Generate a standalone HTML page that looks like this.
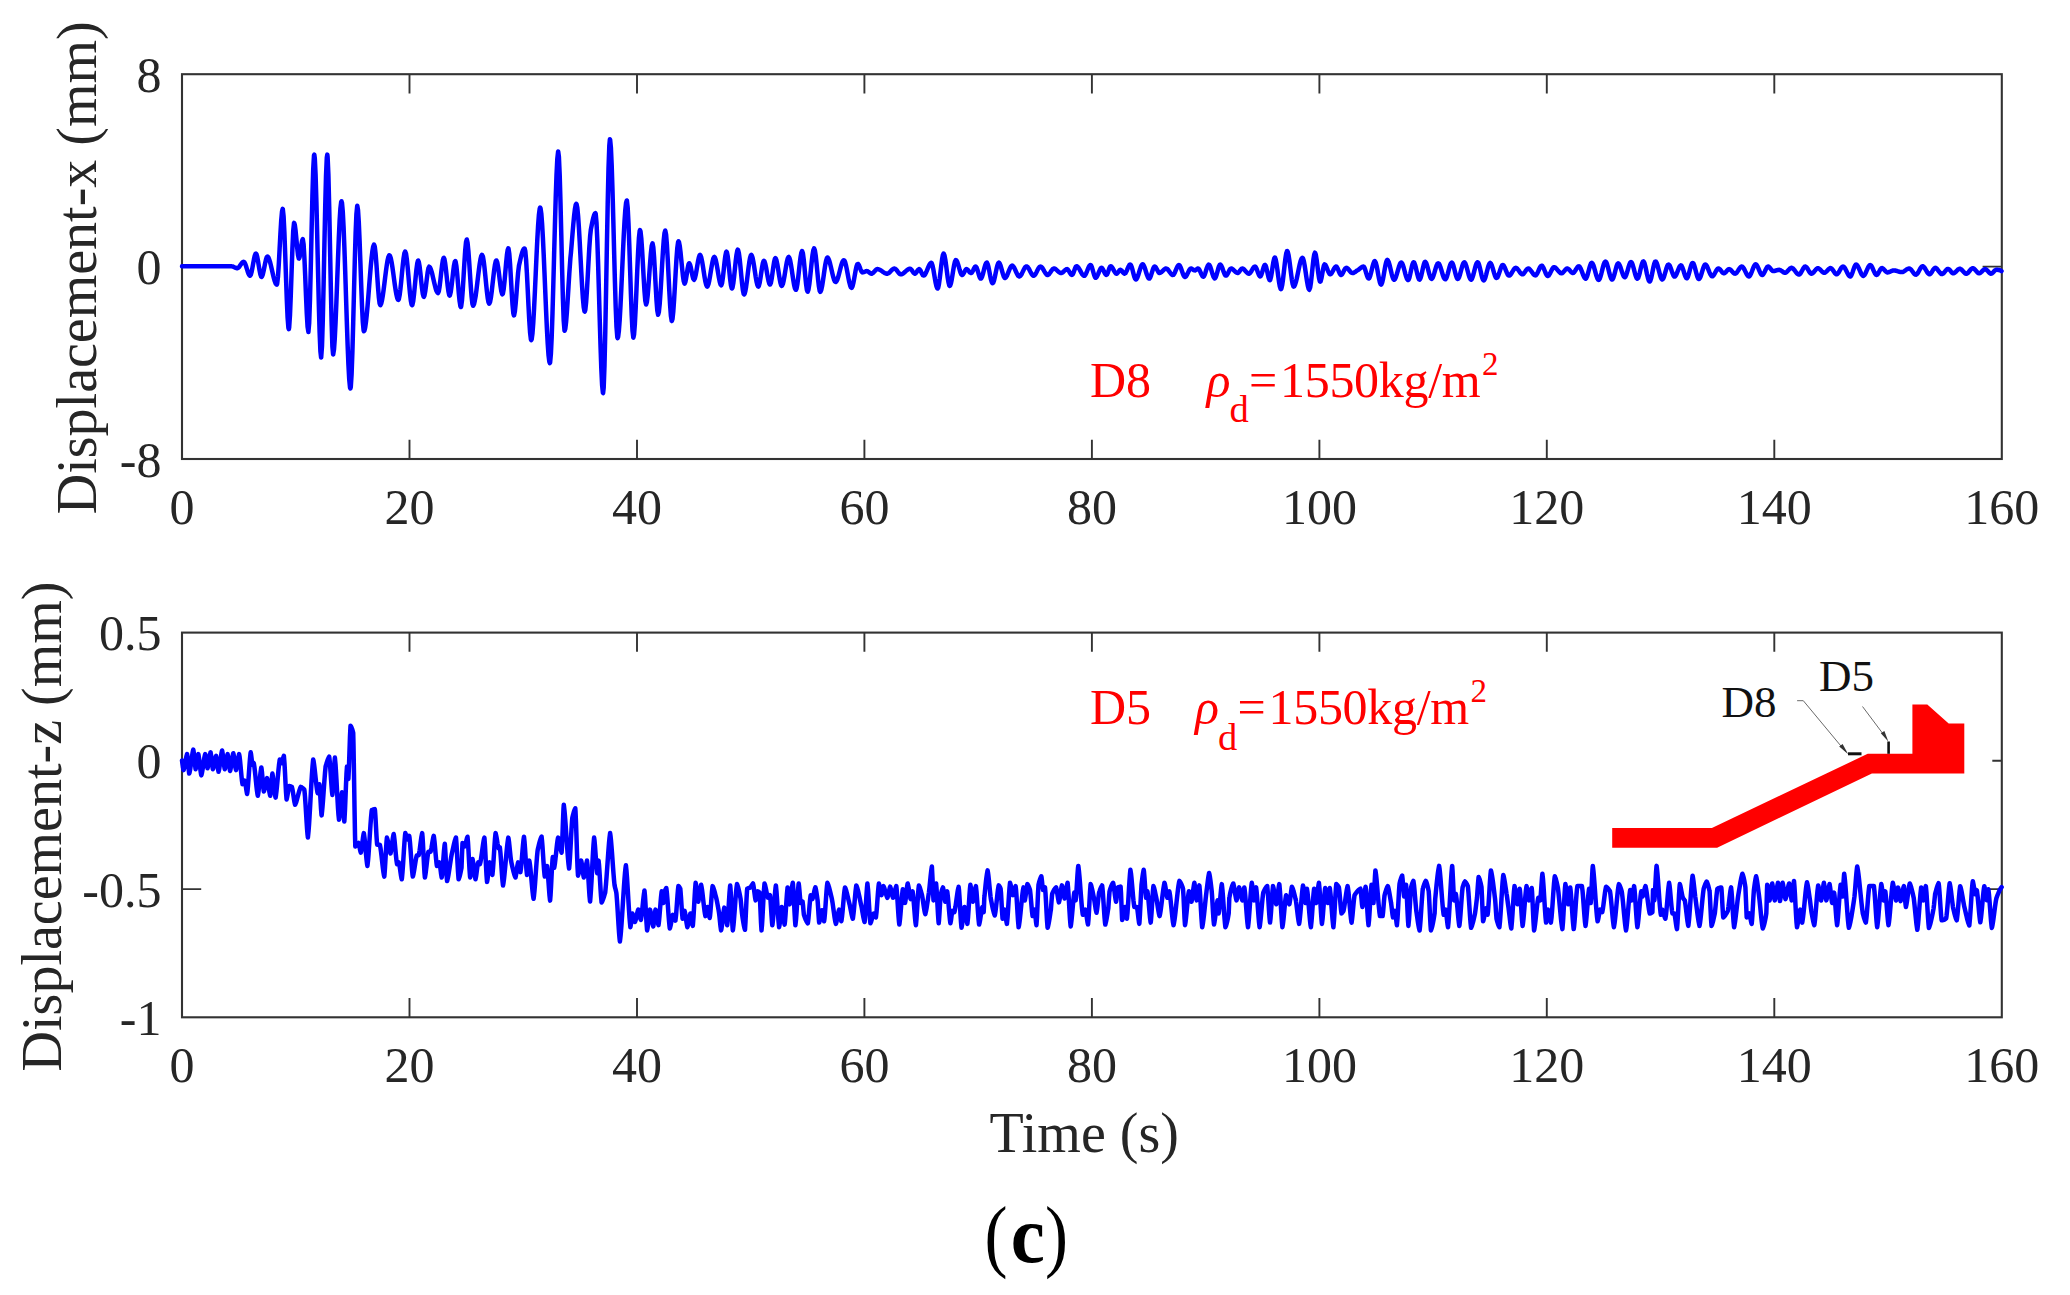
<!DOCTYPE html>
<html><head><meta charset="utf-8"><title>Displacement time histories (c)</title>
<style>html,body{margin:0;padding:0;background:#fff}svg{display:block}text{font-family:"Liberation Serif",serif}</style>
</head><body>
<svg width="2070" height="1295" viewBox="0 0 2070 1295">
<rect width="2070" height="1295" fill="#fff"/>
<g stroke="#333333" stroke-width="2.1" fill="none" stroke-linecap="butt">
<rect x="182.0" y="74.2" width="1819.8" height="384.8"/>
<path d="M409.5 74.2v19.2M409.5 459.0v-19.2M637 74.2v19.2M637 459.0v-19.2M864.4 74.2v19.2M864.4 459.0v-19.2M1091.9 74.2v19.2M1091.9 459.0v-19.2M1319.4 74.2v19.2M1319.4 459.0v-19.2M1546.8 74.2v19.2M1546.8 459.0v-19.2M1774.3 74.2v19.2M1774.3 459.0v-19.2M182.0 266.6h19.2M2001.8 266.6h-19.2" stroke-width="1.9"/>
</g>
<g stroke="#333333" stroke-width="2.1" fill="none" stroke-linecap="butt">
<rect x="182.0" y="632.6" width="1819.8" height="384.7"/>
<path d="M409.5 632.6v19.2M409.5 1017.3v-19.2M637 632.6v19.2M637 1017.3v-19.2M864.4 632.6v19.2M864.4 1017.3v-19.2M1091.9 632.6v19.2M1091.9 1017.3v-19.2M1319.4 632.6v19.2M1319.4 1017.3v-19.2M1546.8 632.6v19.2M1546.8 1017.3v-19.2M1774.3 632.6v19.2M1774.3 1017.3v-19.2M182.0 760.8h19.2M2001.8 760.8h-19.2M182.0 889.1h19.2M2001.8 889.1h-19.2" stroke-width="1.9"/>
</g>
<path d="M182 266.2L182.8 266.2L183.6 266.2L184.4 266.2L185.2 266.2L186 266.2L186.8 266.2L187.6 266.2L188.4 266.2L189.2 266.2L190 266.2L190.8 266.2L191.6 266.2L192.4 266.2L193.2 266.2L194 266.2L194.8 266.2L195.6 266.2L196.4 266.2L197.2 266.2L198 266.2L198.8 266.2L199.6 266.2L200.4 266.2L201.2 266.2L202 266.2L202.8 266.2L203.6 266.2L204.4 266.2L205.2 266.2L206 266.2L206.8 266.2L207.6 266.2L208.4 266.2L209.2 266.2L210 266.2L210.8 266.2L211.6 266.2L212.4 266.2L213.2 266.2L214 266.2L214.8 266.2L215.6 266.2L216.4 266.2L217.2 266.2L218 266.2L218.8 266.2L219.6 266.2L220.4 266.2L221.2 266.2L222 266.2L222.8 266.2L223.6 266.2L224.4 266.2L225.2 266.2L226 266.2L226.8 266.2L227.6 266.2L228.4 266.2L229.2 266.2L230 266.2L230.8 266.2L231 266.2L231.6 266.3L232.4 266.4L233.2 266.7L234 267.1L234.8 267.5L235.6 267.8L236.4 268L237.2 268.2L237.3 268.2L238 267.9L238.8 267.3L239.6 266.3L240.4 265.1L241.2 263.9L242 262.9L242.8 262.1L243.6 261.8L243.7 261.8L244.4 262.3L245.2 263.8L246 266L246.8 268.6L247.6 271.2L248.4 273.5L249.2 275.1L250 275.8L250.1 275.8L250.8 274.8L251.6 272L252.4 267.9L253.2 263.4L254 259.1L254.8 255.6L255.6 253.7L255.9 253.5L256.4 254L257.2 256.6L258 260.8L258.8 265.8L259.6 270.6L260.4 274.5L261.2 276.7L261.5 277L262 276.6L262.8 274.4L263.6 271L264.4 267L265.2 262.9L266 259.4L266.8 257.1L267.4 256.5L267.6 256.6L268.4 257.5L269.2 259.3L270 261.9L270.8 265L271.6 268.4L272.4 272L273.2 275.5L274 278.6L274.8 281.3L275.6 283.4L276.4 284.5L276.8 284.6L277.2 283.6L278 276.4L278.8 264.1L279.6 249.2L280.4 234L281.2 220.6L282 211.6L282.7 208.9L282.8 209.1L283.6 216.6L284.4 232.6L285.2 254L286 277.4L286.8 299.7L287.6 317.6L288.4 327.9L288.8 329.2L289.2 327.2L290 314.9L290.8 294.9L291.6 271.5L292.4 248.8L293.2 231.3L294 223.1L294.1 222.9L294.8 224.8L295.6 230.9L296.4 239.2L297.2 247.9L298 254.9L298.8 258.5L299 258.6L299.6 257.1L300.4 252.4L301.2 246.3L302 241.1L302.8 239L303.6 244.3L304.4 257.8L305.2 276L306 295.8L306.8 313.9L307.6 327L308.4 332L309.2 322.7L310 299L310.8 266.5L311.6 230.4L312.4 196.3L313.2 169.5L314 155.5L314.3 154.6L314.8 158.4L315.6 175.2L316.4 201.9L317.2 234.8L318 270L318.8 303.7L319.6 332L320.4 351.2L321.1 357.5L321.2 357.4L322 346.1L322.8 320L323.6 284.5L324.4 245.1L325.2 207.2L326 176.2L326.8 157.6L327.3 154.6L327.6 156.8L328.4 175.1L329.2 206.9L330 246.1L330.8 286.5L331.6 322L332.4 346.6L333.1 354.4L333.2 354.3L334 349.5L334.8 338.1L335.6 321.7L336.4 302L337.2 280.5L338 258.8L338.8 238.5L339.6 221.2L340.4 208.5L341.2 201.8L341.5 201.3L342 203L342.8 212L343.6 227.5L344.4 247.8L345.2 271.2L346 296.2L346.8 321.1L347.6 344.3L348.4 364.1L349.2 379L350 387.4L350.4 388.5L350.8 386.9L351.6 374.2L352.4 351.7L353.2 323L354 291.5L354.8 260.5L355.6 233.7L356.4 214.3L357.2 206L357.3 205.8L358 209.8L358.8 222.3L359.6 240.8L360.4 262.7L361.2 285.2L362 305.8L362.8 321.7L363.6 330.4L363.9 331.2L364.4 330.7L365.2 327.5L366 321.8L366.8 314.3L367.6 305.5L368.4 295.7L369.2 285.5L370 275.5L370.8 266L371.6 257.7L372.4 251.1L373.2 246.5L374 244.6L374.1 244.6L374.8 246.7L375.6 253.7L376.4 263.8L377.2 275.4L378 287L378.8 296.9L379.6 303.5L380.3 305.2L380.4 305.2L381.2 303.6L382 300.3L382.8 295.6L383.6 289.9L384.4 283.6L385.2 277L386 270.7L386.8 265L387.6 260.2L388.4 256.9L389.2 255.3L389.4 255.3L390 255.9L390.8 258.3L391.6 262.1L392.4 267.1L393.2 272.7L394 278.7L394.8 284.6L395.6 290L396.4 294.6L397.2 298L398 299.7L398.3 299.9L398.8 299.2L399.6 295.4L400.4 289.2L401.2 281.4L402 273L402.8 264.9L403.6 258L404.4 253.2L405.2 251.5L406 253.5L406.8 259L407.6 266.7L408.4 275.7L409.2 285L410 293.6L410.8 300.5L411.6 304.5L412.1 305.2L412.4 304.8L413.2 301.2L414 294.6L414.8 286.4L415.6 277.7L416.4 269.7L417.2 263.7L418 260.7L418.2 260.6L418.8 261.9L419.6 266.4L420.4 273.2L421.2 280.9L422 288.2L422.8 293.9L423.6 296.7L423.8 296.8L424.4 295.7L425.2 291.6L426 285.6L426.8 278.9L427.6 272.7L428.4 268.3L429.2 266.7L429.2 266.7L430 267.4L430.8 269.2L431.6 271.7L432.4 274.7L433.2 278.2L434 281.7L434.8 285.1L435.6 288.2L436.4 290.7L437.2 292.3L438 293L438.8 291.3L439.6 286.6L440.4 280.1L441.2 272.8L442 265.9L442.8 260.5L443.6 257.9L443.8 257.8L444.4 259L445.2 263.4L446 270L446.8 277.6L447.6 285.1L448.4 291.2L449.2 295L449.7 295.6L450 295.1L450.8 291.7L451.6 285.8L452.4 278.7L453.2 271.5L454 265.4L454.8 261.7L455.3 261.1L455.6 261.7L456.4 266.2L457.2 274L458 283.6L458.8 293.2L459.6 301.2L460.4 306.2L460.9 307L461.2 306.3L462 300.2L462.8 289.5L463.6 276.2L464.4 262.6L465.2 250.5L466 242.2L466.8 239.5L466.8 239.5L467.6 243.1L468.4 251.1L469.2 262.1L470 274.4L470.8 286.5L471.6 296.8L472.4 303.7L473.1 305.7L473.2 305.7L474 304.2L474.8 300.7L475.7 295.8L476.5 289.7L477.3 283.1L478.1 276.2L478.9 269.7L479.7 263.8L480.5 259L481.3 255.9L482 254.8L482.9 256.5L483.7 261.1L484.5 267.8L485.3 275.6L486.1 283.8L486.9 291.5L487.7 298L488.5 302.3L489.2 303.7L489.3 303.7L490.1 301.9L490.9 297.6L491.7 291.6L492.5 284.6L493.3 277.4L494.1 270.6L494.9 265L495.7 261.4L496.3 260.4L496.5 260.4L497.3 262.6L498.1 267.1L498.9 273.1L499.7 279.7L500.5 286L501.3 291.1L502.1 293.9L502.4 294.3L502.9 293.6L503.7 289L504.5 281.5L505.3 272.5L506.1 263.2L506.9 255.2L507.7 249.8L508.3 248.4L508.5 248.6L509.3 253.8L510.1 264.3L510.9 277.9L511.7 292.1L512.5 304.6L513.3 313.1L513.9 315.4L514.1 315.3L514.9 311.4L515.7 303.4L516.5 293.2L517.3 282.4L518.1 272.8L518.9 266.2L519 265.6L519.7 262.4L520.5 258.9L521.3 255.6L522.1 252.8L522.9 250.6L523.7 249L524.5 248.4L524.6 248.4L525.3 251L526.1 260L526.9 273.4L527.7 289.3L528.5 305.8L529.3 321L530.1 332.8L530.9 339.4L531.2 340.1L531.7 339.2L532.5 333.1L533.3 322.4L534.1 308.2L534.9 291.7L535.7 274.1L536.5 256.4L537.3 239.9L538.1 225.7L538.9 214.9L539.7 208.7L540.1 207.6L540.5 208.2L541.3 213.5L542.1 223.8L542.9 237.8L543.7 254.7L544.5 273.2L545.3 292.4L546.1 311.2L546.9 328.6L547.7 343.5L548.5 354.9L549.3 361.6L549.8 363.1L550.1 362.5L550.9 353.9L551.7 336.8L552.5 313.1L553.3 285.3L554.1 255.4L554.9 225.7L555.7 198.2L556.5 175.3L557.3 159.1L558.1 151.8L558.2 151.6L558.9 156.8L559.7 175.1L560.5 202.8L561.3 235.4L562.1 268.7L562.9 298.5L563.7 320.6L564.5 330.5L564.6 330.7L565.3 328.7L566.1 322.1L566.9 312L567.7 299.7L568.5 286.5L569.3 273.6L570.1 262.4L570.4 258L570.9 253.3L571.7 243.8L572.5 233.9L573.3 224.4L574.1 215.9L574.9 209.2L575.7 204.9L576.3 203.8L576.5 203.9L577.3 207.7L578.1 216L578.9 227.7L579.7 241.7L580.5 256.9L581.3 272.1L582.1 286.3L582.9 298.3L583.7 307L584.5 311.3L584.7 311.6L585.3 310L586.1 302.6L586.9 291.1L587.7 276.9L588.5 262L589.3 248L590.1 236.6L590.8 229.9L591.7 225.3L592.5 221.3L593.3 217.8L594.1 215.1L594.9 213.6L595.4 213.2L595.7 213.8L596.5 222.6L597.3 239.9L598.1 263.3L598.9 290.4L599.7 318.5L600.5 345.3L601.3 368.3L602.1 384.9L602.9 392.8L603.1 393.1L603.7 387.4L604.5 365.3L605.3 331.1L606.1 289.6L606.9 245.5L607.7 203.7L608.5 168.9L609.3 146L609.9 139.3L610.1 139.5L610.9 147.6L611.7 165.5L612.5 190.5L613.3 219.9L614.1 251L614.9 281L615.7 307.2L616.5 326.8L617.3 337.2L617.6 338.1L618.1 336.9L618.9 330.6L619.7 319.8L620.5 305.6L621.3 289.1L622.1 271.3L622.9 253.5L623.7 236.6L624.5 221.7L625.3 210L626.1 202.6L626.8 200.5L626.9 200.6L627.7 207.8L628.5 223.5L629.3 245.1L630.1 269.4L630.9 293.8L631.7 315.2L632.5 330.7L633.3 337.5L633.4 337.6L634.1 334.2L634.9 323.5L635.7 307.7L636.5 288.9L637.3 269.6L638.1 252L638.9 238.3L639.7 230.8L640 230.1L640.5 231.3L641.3 238.4L642.1 250L642.9 264L643.7 278.4L644.5 291.3L645.3 300.7L646.1 304.5L646.9 302L647.7 295.2L648.5 285.4L649.3 274.2L650.1 262.9L650.9 253L651.7 246L652.5 243.3L653.3 247.2L654.1 257.4L654.9 271.3L655.7 286.5L656.5 300.4L657.3 310.6L658.1 314.7L658.9 311.8L659.7 304L660.5 292.6L661.3 279.2L662.1 265.1L662.9 251.8L663.7 240.6L664.5 233.1L665.2 230.6L665.3 230.6L666.1 234.7L666.9 244.8L667.7 258.7L668.5 274.7L669.3 290.9L670.1 305.2L670.9 315.8L671.7 320.9L671.8 321L672.5 319L673.3 311.4L674.1 299.9L674.9 286.1L675.7 271.7L676.5 258.5L677.3 248L678.1 242L678.5 241.3L678.9 241.8L679.7 245.6L680.5 252L681.3 259.9L682.1 268.1L682.9 275.6L683.7 281.1L684.5 283.5L684.6 283.6L685.3 282.3L686.1 278.5L686.9 273.3L687.7 268.2L688.5 264.4L689.2 263.2L689.3 263.2L690.1 264.7L690.9 267.9L691.7 272L692.5 275.9L693.3 278.8L694 279.8L694.1 279.7L694.9 278.3L695.7 275L696.5 270.5L697.3 265.6L698.1 260.9L698.9 257.2L699.7 255.1L700 254.9L700.5 255.4L701.3 257.6L702.1 261.4L702.9 266.2L703.7 271.4L704.5 276.6L705.3 281.2L706.1 284.6L706.9 286.4L707.2 286.6L707.7 286.1L708.5 283.9L709.3 280.4L710.1 275.8L710.9 270.9L711.7 266.1L712.5 261.8L713.3 258.6L714.1 257L714.3 256.9L714.9 257.4L715.7 259.7L716.5 263.4L717.3 268L718.1 272.9L718.9 277.6L719.7 281.6L720.5 284.3L721.3 285.3L722.1 283L722.9 277.5L723.7 270.2L724.5 262.6L725.3 256.1L726.1 252.2L726.5 251.7L726.9 252.3L727.7 256.3L728.5 263L729.3 270.9L730.1 278.7L730.9 284.9L731.7 288.3L732 288.5L732.5 287.6L733.3 283.4L734.1 276.8L734.9 269.1L735.7 261.3L736.5 254.8L737.3 250.6L737.8 249.7L738.1 250L738.9 253.2L739.7 259.3L740.5 267.2L741.3 275.7L742.1 283.7L742.9 290.2L743.7 293.9L744.1 294.4L744.5 294L745.3 291.4L746.1 286.8L746.9 281L747.7 274.5L748.5 268L749.3 262.2L750.1 257.7L750.9 255.2L751.3 254.9L751.7 255.3L752.5 257.5L753.3 261.4L754.1 266.2L754.9 271.5L755.7 276.8L756.5 281.4L757.3 284.8L758.1 286.5L758.3 286.6L758.9 285.8L759.7 282.6L760.5 277.8L761.3 272.4L762.1 267.1L762.9 263L763.7 260.9L763.9 260.8L764.5 261.4L765.3 263.9L766.1 267.7L766.9 272.3L767.7 276.9L768.5 280.9L769.3 283.7L770 284.6L770.1 284.6L770.9 282.8L771.7 278.6L772.5 273L773.3 267.1L774.1 262.1L774.9 258.8L775.4 258.2L775.7 258.4L776.5 260.4L777.3 264.2L778.1 268.9L778.9 274.1L779.7 279L780.5 283L781.3 285.5L781.8 285.9L782.1 285.7L782.9 283.9L783.7 280.4L784.5 276L785.3 271L786.1 266.1L786.9 261.7L787.7 258.5L788.5 257L788.7 256.9L789.3 257.6L790.1 260.2L790.9 264.4L791.7 269.4L792.5 274.9L793.3 280.2L794.1 284.9L794.9 288.2L795.7 289.8L795.9 289.8L796.5 288.7L797.3 284.6L798.1 278.5L798.9 271.3L799.7 263.9L800.5 257.5L801.3 252.8L802.1 251L802.9 253.3L803.7 259.2L804.5 267.4L805.3 276.3L806.1 284.3L806.9 290L807.6 291.8L807.7 291.8L808.5 289.5L809.3 284.5L810.1 277.5L810.9 269.7L811.7 261.9L812.5 255.1L813.3 250.3L814.1 248.4L814.9 250.4L815.7 255.6L816.5 263L817.3 271.4L818.1 279.6L818.9 286.4L819.7 290.8L820.3 291.8L820.5 291.7L821.3 289.8L822.1 286.1L822.9 281.2L823.7 275.6L824.5 269.9L825.3 264.7L826.1 260.6L826.9 258.1L827.4 257.5L827.7 257.6L828.5 258.7L829.3 260.8L830.1 263.7L830.9 267L831.7 270.6L832.5 274L833.3 277.2L834.1 279.8L834.9 281.5L835.6 282L835.7 282L836.5 281.3L837.3 279.7L838.1 277.3L838.9 274.4L839.7 271.3L840.5 268.1L841.3 265.2L842.1 262.7L842.9 261L843.7 260.2L843.9 260.2L844.5 260.7L845.3 262.7L846.1 265.9L846.9 269.8L847.7 274L848.5 278.3L849.3 282.2L850.1 285.3L850.9 287.3L851.6 287.9L851.7 287.8L852.5 286.4L853.3 283.3L854.1 279.1L854.9 274.6L855.7 270.2L856.5 266.6L857.3 264.3L857.8 263.9L858.1 264L858.9 265.1L859.7 267.1L860.5 269.3L861.3 271.2L862.1 272.3L862.4 272.4L862.9 272.3L863.7 272.1L864.5 271.8L865.3 271.5L866.1 271.2L866.9 271.1L867.7 271.3L868.5 271.8L869.3 272.5L870.1 273.1L870.9 273.6L871.5 273.7L871.7 273.7L872.5 273.3L873.3 272.7L874.1 271.8L874.9 270.9L875.7 270L876.5 269.4L877.3 269.1L877.4 269.1L878.1 269.2L878.9 269.4L879.7 269.8L880.5 270.2L881.3 270.7L882.1 271.3L882.9 271.9L883.7 272.4L884.5 272.9L885.3 273.3L886.1 273.5L886.9 273.7L887.2 273.7L887.7 273.6L888.5 273.2L889.3 272.6L890.1 271.8L890.9 270.9L891.7 270.1L892.5 269.3L893.3 268.8L894.1 268.5L894.3 268.5L894.9 268.6L895.7 269.2L896.5 270L897.3 271L898.1 272.1L898.9 273.1L899.7 273.9L900.5 274.3L900.9 274.3L901.3 274.3L902.1 274.1L902.9 273.6L903.7 273L904.5 272.4L905.3 271.6L906.1 270.9L906.9 270.2L907.7 269.6L908.5 269.1L909.3 268.8L910 268.7L910.1 268.7L910.9 269.2L911.7 270.1L912.5 271.3L913.3 272.4L914.1 273.3L914.9 273.7L915.7 273.3L916.5 272.2L917.3 270.9L918.1 269.8L918.9 269.2L919.1 269.1L919.7 269.4L920.5 270.6L921.3 272.2L922.1 273.9L922.9 275.2L923.7 275.6L924.5 275.2L925.3 274.1L926.1 272.5L926.9 270.6L927.7 268.6L928.5 266.6L929.3 264.9L930.1 263.6L930.9 262.9L931.3 262.8L931.7 263.2L932.5 265.5L933.3 269.2L934.1 273.8L934.9 278.6L935.7 283L936.5 286.5L937.3 288.4L937.6 288.5L938.1 287.9L938.9 284.4L939.7 278.8L940.5 272.1L941.3 265.2L942.1 259.2L942.9 255L943.6 253.6L943.7 253.7L944.5 255.5L945.3 259.6L946.1 265.3L946.9 271.5L947.7 277.6L948.5 282.5L949.3 285.5L949.8 285.9L950.1 285.7L950.9 283.5L951.7 279.7L952.5 274.9L953.3 269.9L954.1 265.2L954.9 261.8L955.7 260.1L955.9 260L956.5 260.4L957.3 262L958.1 264.4L958.9 267.1L959.7 270L960.5 272.5L961.3 274.3L962.1 275L962.9 274.5L963.7 273.3L964.5 271.7L965.3 270.2L966.1 269.3L966.5 269.1L966.9 269.2L967.7 269.8L968.5 270.7L969.3 271.8L970.1 272.6L970.9 273L971.1 273L971.7 272.7L972.5 271.5L973.3 269.9L974.1 268.2L974.9 267L975.7 266.5L975.7 266.5L976.5 267.4L977.3 269.5L978.1 272.1L978.9 274.9L979.7 277.2L980.5 278.5L980.9 278.6L981.3 278.3L982.1 276.7L982.9 274.1L983.7 270.9L984.5 267.6L985.3 264.9L986.1 263L986.7 262.6L986.9 262.6L987.7 264.2L988.5 267.2L989.3 271.1L990.1 275.4L990.9 279.2L991.7 282L992.5 283.3L992.6 283.3L993.3 282.5L994.1 280.2L994.9 276.8L995.7 272.9L996.5 269.1L997.3 265.7L998.1 263.4L998.9 262.6L998.9 262.6L999.7 263.5L1000.5 265.4L1001.3 268.1L1002.1 271.1L1002.9 273.9L1003.7 276.3L1004.5 277.7L1005 278L1005.3 277.9L1006.1 277.1L1006.9 275.8L1007.7 273.9L1008.5 271.9L1009.3 269.9L1010.1 268L1010.9 266.6L1011.7 265.8L1012.2 265.6L1012.5 265.7L1013.3 266.4L1014.1 267.6L1014.9 269.2L1015.7 271L1016.5 272.8L1017.3 274.4L1018.1 275.7L1018.9 276.4L1019.3 276.5L1019.7 276.4L1020.5 275.7L1021.3 274.6L1022.1 273.1L1022.9 271.4L1023.7 269.8L1024.5 268.3L1025.3 267.1L1026.1 266.5L1026.5 266.4L1026.9 266.5L1027.7 267.1L1028.5 268.2L1029.3 269.6L1030.1 271.2L1030.9 272.7L1031.7 274.1L1032.5 275.1L1033.3 275.7L1033.7 275.8L1034.1 275.6L1034.9 274.9L1035.7 273.7L1036.5 272.2L1037.3 270.6L1038.1 269L1038.9 267.7L1039.7 266.8L1040.5 266.5L1040.5 266.5L1041.3 266.8L1042.1 267.6L1042.9 268.8L1043.7 270.2L1044.5 271.6L1045.3 272.9L1046.1 274L1046.9 274.8L1047.6 275L1047.7 275L1048.5 274.6L1049.3 273.8L1050.1 272.7L1050.9 271.5L1051.7 270.3L1052.5 269.3L1053.3 268.6L1053.9 268.5L1054.1 268.5L1054.9 268.7L1055.7 269.2L1056.5 269.9L1057.3 270.6L1058.1 271.4L1058.9 272.1L1059.7 272.6L1060.5 273L1061.1 273L1061.3 273L1062.2 272.7L1063 272.1L1063.8 271.3L1064.6 270.6L1065.4 269.8L1066.2 269.3L1067 269.1L1067.8 269.5L1068.6 270.6L1069.4 271.9L1070.2 273.3L1071 274.4L1071.8 275L1071.9 275L1072.6 274.5L1073.4 272.9L1074.2 270.7L1075 268.5L1075.8 266.8L1076.5 266.2L1076.6 266.2L1077.4 266.5L1078.2 267.4L1079 268.5L1079.8 269.9L1080.6 271.4L1081.4 272.9L1082.2 274.2L1083 275.1L1083.8 275.7L1084.2 275.8L1084.6 275.7L1085.4 274.8L1086.2 273.2L1087 271.3L1087.8 269.2L1088.6 267.3L1089.4 265.8L1090.2 265L1090.4 265L1091 265.3L1091.8 267L1092.6 269.6L1093.4 272.5L1094.2 275.2L1095 277.2L1095.6 277.8L1095.8 277.8L1096.6 277.1L1097.4 275.7L1098.2 273.9L1099 271.9L1099.8 270L1100.6 268.5L1101.4 267.8L1101.5 267.8L1102.2 268.2L1103 269.4L1103.8 271L1104.6 272.8L1105.4 274.2L1106.2 275L1106.3 275L1107 274.5L1107.8 272.8L1108.6 270.4L1109.4 268.1L1110.2 266.6L1110.6 266.3L1111 266.3L1111.8 267L1112.6 268.1L1113.4 269.6L1114.2 271.1L1115 272.4L1115.8 273.4L1116.5 273.7L1117.4 273.2L1118.2 272.2L1119 271L1119.8 270.1L1120.4 269.8L1120.6 269.8L1121.4 270.3L1122.2 271.2L1123 272.4L1123.8 273.3L1124.6 273.7L1125.4 273.2L1126.2 271.9L1127 270.2L1127.8 268.2L1128.6 266.4L1129.4 265L1130.2 264.5L1131 265.2L1131.8 267.3L1132.6 270.2L1133.4 273.4L1134.2 276.4L1135 278.6L1135.8 279.5L1135.8 279.5L1136.6 279L1137.4 277.5L1138.2 275.3L1139 272.7L1139.8 270L1140.6 267.6L1141.4 265.6L1142.2 264.5L1142.6 264.3L1143 264.4L1143.8 265.5L1144.6 267.4L1145.4 269.8L1146.2 272.5L1147 275L1147.8 277L1148.6 278.3L1149.1 278.6L1149.4 278.6L1150.2 277.5L1151 275.4L1151.8 272.9L1152.6 270.3L1153.4 268.1L1154.2 266.7L1154.6 266.5L1155 266.6L1155.8 267.4L1156.6 268.8L1157.4 270.3L1158.2 271.8L1159 272.8L1159.6 273L1159.8 273L1160.6 272.7L1161.4 272.2L1162.2 271.4L1163 270.6L1163.8 269.8L1164.6 269.1L1165.4 268.6L1166.1 268.5L1166.2 268.5L1167 268.8L1167.8 269.5L1168.6 270.5L1169.4 271.6L1170.2 272.7L1171 273.8L1171.8 274.5L1172.6 275L1172.9 275L1173.4 274.8L1174.2 273.8L1175 272.2L1175.8 270.2L1176.6 268.3L1177.4 266.6L1178.2 265.4L1178.9 265L1179 265L1179.8 265.7L1180.6 267.3L1181.4 269.4L1182.2 271.7L1183 274L1183.8 275.8L1184.6 276.8L1185 277L1185.4 276.9L1186.2 276.1L1187 274.7L1187.8 273.1L1188.6 271.4L1189.4 269.8L1190.2 268.8L1190.9 268.5L1191 268.5L1191.8 268.7L1192.6 269.3L1193.4 269.9L1194.2 270.3L1194.8 270.4L1195 270.4L1195.8 270L1196.6 269.3L1197.4 268.7L1198 268.5L1198.2 268.5L1199 269.2L1199.8 270.6L1200.6 272.4L1201.4 274.3L1202.2 275.8L1203 276.6L1203.3 276.7L1203.8 276.4L1204.6 274.9L1205.4 272.7L1206.2 270L1207 267.5L1207.8 265.6L1208.6 264.6L1208.7 264.6L1209.4 265L1210.2 266.6L1211 268.9L1211.8 271.6L1212.6 274.3L1213.4 276.6L1214.2 278L1214.7 278.4L1215 278.3L1215.8 277L1216.6 274.7L1217.4 271.8L1218.2 268.8L1219 266.3L1219.8 264.8L1220.2 264.5L1220.6 264.7L1221.4 265.8L1222.2 267.6L1223 269.9L1223.8 272.2L1224.6 274.2L1225.4 275.4L1225.9 275.6L1226.2 275.6L1227 274.8L1227.8 273.5L1228.6 271.9L1229.4 270.3L1230.2 269.1L1231 268.5L1231.1 268.5L1231.8 268.6L1232.6 269.1L1233.4 269.8L1234.2 270.6L1235 271.4L1235.8 272.2L1236.6 272.7L1237.4 273L1237.6 273L1238.2 272.8L1239 272.1L1239.8 270.9L1240.6 269.8L1241.4 268.8L1242.2 268.5L1243 268.7L1243.8 269.2L1244.6 270L1245.4 270.9L1246.2 271.8L1247 272.6L1247.8 273.3L1248.6 273.6L1249 273.7L1249.4 273.6L1250.2 272.9L1251 271.8L1251.8 270.4L1252.6 269L1253.4 267.7L1254.2 266.8L1255 266.5L1255.8 267.2L1256.6 268.8L1257.4 271L1258.2 273.2L1259 275.2L1259.8 276.3L1260.2 276.5L1260.6 276.2L1261.4 274.7L1262.2 272.1L1263 269.3L1263.8 266.7L1264.6 265.1L1265 264.9L1265.4 265.2L1266.2 267.2L1267 270.5L1267.8 274.3L1268.6 277.7L1269.4 279.8L1269.8 280.2L1270.2 279.9L1271 277L1271.8 272.4L1272.6 266.9L1273.4 261.9L1274.2 258.4L1274.8 257.5L1275 257.6L1275.8 259.8L1276.6 264.2L1277.4 269.8L1278.2 276L1279 281.8L1279.8 286.4L1280.6 288.9L1280.9 289.2L1281.4 288.6L1282.2 285.1L1283 279.4L1283.8 272.4L1284.6 265.2L1285.4 258.5L1286.2 253.5L1287 251.1L1287.2 251L1287.8 251.9L1288.6 255.3L1289.4 260.6L1290.2 266.8L1291 273.3L1291.8 279.3L1292.6 283.9L1293.4 286.4L1293.7 286.6L1294.2 286.3L1295 284.9L1295.8 282.4L1296.6 279.2L1297.4 275.5L1298.2 271.6L1299 267.7L1299.8 264.1L1300.6 261.1L1301.4 258.9L1302.2 257.9L1302.4 257.8L1303 258.4L1303.8 261L1304.6 265.2L1305.4 270.4L1306.2 275.9L1307 281.2L1307.8 285.7L1308.6 288.8L1309.3 289.8L1310.2 287.5L1311 282.1L1311.8 274.8L1312.6 266.9L1313.4 259.7L1314.2 254.6L1315 252.7L1315.8 254.7L1316.6 259.5L1317.4 265.8L1318.2 272.4L1319 277.9L1319.8 281.3L1320.2 281.7L1320.6 281.3L1321.4 278.5L1322.2 274.2L1323 269.6L1323.8 265.9L1324.6 264.4L1325.4 264.9L1326.2 266.3L1327 268.3L1327.8 270.4L1328.6 272.3L1329.4 273.8L1330.2 274.3L1331 274L1331.8 272.9L1332.6 271.5L1333.4 269.9L1334.2 268.4L1335 267.2L1335.8 266.6L1336.1 266.5L1336.6 266.8L1337.4 268L1338.2 269.8L1339 271.9L1339.8 273.7L1340.6 274.8L1341 275L1341.4 274.9L1342.2 274.1L1343 272.7L1343.8 271.1L1344.6 269.5L1345.4 268.3L1346.2 267.8L1346.3 267.8L1347 268L1347.8 268.6L1348.6 269.5L1349.4 270.5L1350.2 271.5L1351 272.4L1351.8 272.9L1352.4 273L1352.6 273L1353.4 272.9L1354.2 272.5L1355 272.1L1355.8 271.5L1356.6 270.9L1357.4 270.3L1358.2 269.8L1358.3 269.8L1359 269.3L1359.8 268.6L1360.6 268L1361.4 267.4L1362.2 266.9L1363 266.6L1363.5 266.5L1363.8 266.7L1364.6 268L1365.4 270.3L1366.2 273L1367 275.7L1367.8 277.7L1368.6 278.6L1368.7 278.6L1369.4 278L1370.2 276L1371 273L1371.8 269.7L1372.6 266.3L1373.4 263.5L1374.2 261.6L1374.8 261.1L1375 261.2L1375.8 262.7L1376.6 265.8L1377.4 269.8L1378.2 274.3L1379 278.6L1379.8 282.1L1380.6 284.2L1381.1 284.6L1381.4 284.4L1382.2 282.5L1383 279.1L1383.8 274.7L1384.6 269.9L1385.4 265.5L1386.2 262.1L1387 260.1L1387.3 259.9L1387.8 260.2L1388.6 261.7L1389.4 264.3L1390.2 267.5L1391 271L1391.8 274.3L1392.6 277.2L1393.4 279.1L1394.1 279.7L1394.2 279.7L1395 279L1395.8 277.3L1396.6 274.9L1397.4 272.2L1398.2 269.3L1399 266.6L1399.8 264.4L1400.6 262.9L1401.3 262.5L1401.4 262.5L1402.2 263.4L1403 265.3L1403.8 268L1404.6 271L1405.4 274.1L1406.2 276.8L1407 278.9L1407.8 280L1408.1 280.1L1408.6 279.7L1409.4 277.6L1410.2 274.3L1411 270.5L1411.8 266.9L1412.6 263.9L1413.4 262.3L1413.7 262.2L1414.2 262.6L1415 264.5L1415.8 267.4L1416.6 270.9L1417.4 274.4L1418.2 277.4L1419 279.3L1419.6 279.7L1419.8 279.6L1420.6 278L1421.4 275.1L1422.2 271.5L1423 267.7L1423.8 264.5L1424.6 262.3L1425.2 261.8L1425.4 261.9L1426.2 263.1L1427 265.3L1427.8 268.2L1428.6 271.4L1429.4 274.4L1430.2 276.9L1431 278.5L1431.6 278.9L1431.8 278.8L1432.6 277.8L1433.4 275.9L1434.2 273.4L1435 270.6L1435.8 267.9L1436.6 265.5L1437.4 263.9L1438.2 263.3L1439 263.9L1439.8 265.4L1440.6 267.6L1441.4 270.2L1442.2 272.9L1443 275.5L1443.8 277.6L1444.6 279L1445.3 279.3L1445.4 279.3L1446.2 278.3L1447 276.3L1447.8 273.6L1448.6 270.5L1449.4 267.5L1450.2 265L1451 263.2L1451.8 262.6L1452.6 263.4L1453.4 265.6L1454.2 268.5L1455 271.8L1455.8 274.9L1456.6 277.4L1457.4 278.8L1457.8 279L1458.2 278.7L1459 277.4L1459.8 275.1L1460.6 272.2L1461.4 269.1L1462.2 266.3L1463 263.9L1463.8 262.5L1464.3 262.3L1464.6 262.4L1465.4 263.6L1466.2 265.7L1467 268.5L1467.8 271.5L1468.6 274.5L1469.4 277.1L1470.2 278.9L1471 279.7L1471.1 279.7L1471.8 279.1L1472.6 277.2L1473.4 274.5L1474.2 271.4L1475 268.2L1475.8 265.4L1476.6 263.3L1477.4 262.2L1477.6 262.2L1478.2 262.7L1479 264.7L1479.8 267.6L1480.6 271.1L1481.4 274.6L1482.2 277.6L1483 279.7L1483.7 280.4L1483.8 280.4L1484.6 279.5L1485.4 277.4L1486.2 274.5L1487 271.3L1487.8 268.2L1488.6 265.5L1489.4 263.6L1490.2 262.9L1491 263.6L1491.8 265.4L1492.6 267.9L1493.4 270.7L1494.2 273.4L1495 275.8L1495.8 277.5L1496.6 278L1496.6 278L1497.4 277.4L1498.2 275.8L1499 273.6L1499.8 271.1L1500.6 268.7L1501.4 266.6L1502.2 265.3L1502.8 265L1503 265L1503.8 265.7L1504.6 267.2L1505.4 269.1L1506.2 271.2L1507 273.1L1507.8 274.7L1508.6 275.6L1509 275.6L1509.4 275.5L1510.2 275L1511 274L1511.8 272.7L1512.6 271.4L1513.4 270.1L1514.2 268.9L1515 268.1L1515.8 267.8L1516.6 268.1L1517.4 268.8L1518.2 269.8L1519 270.9L1519.8 272.1L1520.6 273.2L1521.4 274L1522.2 274.3L1522.4 274.3L1523 274.2L1523.8 273.5L1524.6 272.4L1525.4 271.3L1526.2 270.1L1527 269.1L1527.8 268.6L1528.3 268.5L1528.6 268.5L1529.4 269L1530.2 269.8L1531 270.8L1531.8 271.9L1532.6 273L1533.4 274.1L1534.2 274.9L1535 275.3L1535.4 275.4L1535.8 275.3L1536.6 274.5L1537.4 273.1L1538.2 271.3L1539 269.5L1539.8 267.8L1540.6 266.5L1541.4 265.8L1541.7 265.7L1542.2 265.9L1543 267L1543.8 268.6L1544.6 270.5L1545.4 272.5L1546.2 274.3L1547 275.5L1547.8 276L1548.6 275.6L1549.4 274.5L1550.2 273.1L1551 271.4L1551.8 269.8L1552.6 268.4L1553.4 267.4L1554.1 267.2L1554.2 267.2L1555 267.4L1555.8 268L1556.6 268.8L1557.4 269.8L1558.2 270.8L1559 271.7L1559.8 272.5L1560.6 273.1L1561.4 273.3L1561.5 273.3L1562.2 273.1L1563 272.5L1563.8 271.6L1564.6 270.7L1565.4 269.7L1566.2 269L1567 268.5L1567.4 268.5L1567.8 268.6L1568.6 269.1L1569.4 269.9L1570.2 270.9L1571 271.9L1571.8 272.6L1572.6 273L1572.9 273L1573.4 272.9L1574.2 272.1L1575 271L1575.8 269.7L1576.6 268.4L1577.4 267.2L1578.2 266.5L1578.9 266.3L1579 266.3L1579.8 267L1580.6 268.4L1581.4 270.3L1582.2 272.4L1583 274.6L1583.8 276.5L1584.6 277.9L1585.4 278.6L1585.6 278.7L1586.2 278.2L1587 276.6L1587.8 274L1588.6 271L1589.4 268L1590.2 265.3L1591 263.5L1591.8 262.8L1591.8 262.8L1592.6 263.6L1593.4 265.3L1594.2 267.8L1595 270.7L1595.8 273.6L1596.6 276.3L1597.4 278.5L1598.2 279.7L1598.7 279.9L1599 279.8L1599.8 278.5L1600.6 276.2L1601.4 273.3L1602.2 270.1L1603 266.9L1603.8 264.2L1604.6 262.3L1605.4 261.5L1606.2 262.2L1607 264L1607.8 266.8L1608.6 269.9L1609.4 273.2L1610.2 276.1L1611 278.3L1611.8 279.5L1612.1 279.6L1612.6 279.3L1613.4 277.7L1614.2 275.1L1615 272.1L1615.8 269L1616.6 266.2L1617.4 264.2L1618.2 263.4L1619 264L1619.8 265.5L1620.6 267.6L1621.4 270.1L1622.2 272.6L1623 274.8L1623.8 276.4L1624.6 277.2L1624.8 277.2L1625.4 276.7L1626.2 275.1L1627 272.6L1627.8 269.8L1628.6 266.9L1629.4 264.4L1630.2 262.7L1631 262L1631.8 262.7L1632.6 264.7L1633.4 267.3L1634.2 270.4L1635 273.5L1635.8 276.2L1636.6 278L1637.4 278.7L1638.2 277.9L1639 275.6L1639.8 272.6L1640.6 269.1L1641.4 265.8L1642.2 263.2L1643 261.6L1643.4 261.4L1643.8 261.7L1644.6 263.5L1645.4 266.6L1646.2 270.3L1647 274.3L1647.9 277.8L1648.7 280.4L1649.5 281.6L1649.6 281.6L1650.3 280.9L1651.1 278.4L1651.9 274.8L1652.7 270.7L1653.5 266.8L1654.3 263.6L1655.1 261.7L1655.4 261.5L1655.9 261.7L1656.7 263L1657.5 265.3L1658.3 268.3L1659.1 271.4L1659.9 274.5L1660.7 277.1L1661.5 278.9L1662.2 279.5L1663.1 278.8L1663.9 277L1664.7 274.4L1665.5 271.6L1666.3 268.8L1667.1 266.4L1667.9 264.9L1668.5 264.5L1668.7 264.5L1669.5 265.3L1670.3 267L1671.1 269.1L1671.9 271.5L1672.7 273.7L1673.5 275.5L1674.3 276.5L1674.6 276.6L1675.1 276.4L1675.9 275.4L1676.7 273.7L1677.5 271.7L1678.3 269.6L1679.1 267.6L1679.9 266.1L1680.7 265.4L1680.9 265.3L1681.5 265.7L1682.3 267.2L1683.1 269.4L1683.9 272L1684.7 274.6L1685.5 276.7L1686.3 278.1L1686.7 278.3L1687.1 278.2L1687.9 276.8L1688.7 274.4L1689.5 271.4L1690.3 268.3L1691.1 265.5L1691.9 263.6L1692.6 262.9L1692.7 262.9L1693.5 263.7L1694.3 265.7L1695.1 268.4L1695.9 271.5L1696.7 274.5L1697.5 277L1698.3 278.7L1698.9 279.1L1699.1 279L1699.9 278.1L1700.7 276.3L1701.5 273.8L1702.3 271.1L1703.1 268.5L1703.9 266.3L1704.7 264.8L1705.3 264.5L1705.5 264.5L1706.3 265.2L1707.1 266.5L1707.9 268.3L1708.7 270.3L1709.5 272.3L1710.3 274.1L1711.1 275.5L1711.9 276.2L1712.2 276.3L1712.7 276.2L1713.5 275.4L1714.3 274.3L1715.1 272.8L1715.9 271.3L1716.7 270L1717.5 269L1718.3 268.5L1718.4 268.5L1719.1 268.7L1719.9 269.3L1720.7 270.2L1721.5 271.3L1722.3 272.3L1723.1 273L1723.9 273.3L1724.7 273.1L1725.5 272.4L1726.3 271.5L1727.1 270.6L1727.9 269.7L1728.7 269.2L1729.1 269.1L1729.5 269.2L1730.3 269.6L1731.1 270.3L1731.9 271.2L1732.7 272.1L1733.5 272.9L1734.3 273.5L1735 273.7L1735.1 273.7L1735.9 273.4L1736.7 272.6L1737.5 271.5L1738.3 270.3L1739.1 269L1739.9 267.9L1740.7 267L1741.5 266.6L1741.8 266.5L1742.3 266.7L1743.1 267.4L1743.9 268.6L1744.7 270.1L1745.5 271.8L1746.3 273.4L1747.1 274.9L1747.9 275.9L1748.7 276.5L1748.9 276.5L1749.5 276.2L1750.3 275.1L1751.1 273.5L1751.9 271.5L1752.7 269.3L1753.5 267.3L1754.3 265.6L1755.1 264.6L1755.7 264.3L1755.9 264.4L1756.7 265L1757.5 266.4L1758.3 268.1L1759.1 270.1L1759.9 272L1760.7 273.6L1761.5 274.7L1762.2 275L1762.3 275L1763.1 274.5L1763.9 273.3L1764.7 271.7L1765.5 270L1766.3 268.4L1767.1 267.1L1767.9 266.5L1768 266.5L1768.7 266.7L1769.5 267.4L1770.3 268.3L1771.1 269.3L1771.9 270.3L1772.7 270.9L1773.3 271.1L1773.5 271.1L1774.3 271L1775.1 270.8L1775.9 270.5L1776.7 270.3L1777.5 270L1778.3 269.9L1779.1 269.8L1779.1 269.8L1779.9 269.9L1780.7 270.3L1781.5 270.8L1782.3 271.4L1783.1 272L1783.9 272.5L1784.7 272.8L1785 272.8L1785.5 272.7L1786.3 272.3L1787.1 271.6L1787.9 270.7L1788.7 269.8L1789.5 269L1790.3 268.3L1791.1 267.9L1791.5 267.8L1791.9 267.9L1792.7 268.3L1793.5 269L1794.3 269.9L1795.1 271L1795.9 272.1L1796.7 273.1L1797.5 273.9L1798.3 274.4L1799 274.6L1799.1 274.6L1799.9 274.1L1800.7 273.1L1801.5 271.7L1802.3 270.2L1803.1 268.7L1803.9 267.5L1804.7 266.7L1805.2 266.5L1805.5 266.6L1806.3 267.1L1807.1 268L1807.9 269.3L1808.7 270.7L1809.5 272L1810.3 273L1811.1 273.6L1811.5 273.7L1811.9 273.6L1812.7 273.2L1813.5 272.4L1814.3 271.5L1815.1 270.4L1815.9 269.5L1816.7 268.7L1817.5 268.3L1817.9 268.2L1818.3 268.3L1819.1 268.7L1819.9 269.3L1820.7 270.2L1821.5 271L1822.3 271.8L1823.1 272.4L1823.9 272.8L1824.1 272.8L1824.7 272.7L1825.5 272.3L1826.3 271.6L1827.1 270.8L1827.9 269.9L1828.7 269.1L1829.5 268.5L1830.3 268.1L1830.6 268.1L1831.1 268.2L1831.9 268.8L1832.7 269.8L1833.5 271.1L1834.3 272.3L1835.1 273.4L1835.9 274.1L1836.5 274.3L1836.7 274.3L1837.5 273.9L1838.3 272.9L1839.1 271.7L1839.9 270.2L1840.7 268.8L1841.5 267.6L1842.3 266.8L1843 266.5L1843.9 266.9L1844.7 267.8L1845.5 269.2L1846.3 270.8L1847.1 272.4L1847.9 274L1848.7 275.3L1849.5 276.2L1850.2 276.5L1850.3 276.5L1851.1 275.8L1851.9 274.1L1852.7 271.9L1853.5 269.5L1854.3 267.2L1855.1 265.5L1855.9 264.6L1856.1 264.5L1856.7 264.8L1857.5 265.7L1858.3 267.1L1859.1 268.8L1859.9 270.7L1860.7 272.6L1861.5 274.2L1862.3 275.3L1863.1 275.9L1863.3 275.9L1863.9 275.6L1864.7 274.7L1865.5 273.2L1866.3 271.5L1867.1 269.6L1867.9 267.8L1868.7 266.3L1869.5 265.3L1870.2 265L1870.3 265L1871.1 265.6L1871.9 266.8L1872.7 268.5L1873.5 270.3L1874.3 272.1L1875.1 273.7L1875.9 274.7L1876.6 275L1876.7 275L1877.5 274.4L1878.3 273.3L1879.1 271.8L1879.9 270.3L1880.7 269L1881.5 268.2L1881.9 268.1L1882.3 268.1L1883.1 268.6L1883.9 269.4L1884.7 270.3L1885.5 271.2L1886.3 271.9L1887.1 272.4L1887.4 272.4L1887.9 272.4L1888.7 272.2L1889.5 271.9L1890.3 271.6L1891.1 271.2L1891.9 270.9L1892.7 270.6L1893.5 270.5L1893.9 270.4L1894.3 270.4L1895.1 270.5L1895.9 270.7L1896.7 270.9L1897.5 271.2L1898.3 271.4L1899.1 271.7L1899.9 271.9L1900.7 272L1901.5 272.1L1901.7 272.1L1902.3 272.1L1903.1 271.8L1903.9 271.4L1904.7 270.9L1905.5 270.3L1906.3 269.7L1907.1 269.2L1907.9 268.8L1908.7 268.5L1909.3 268.5L1909.5 268.5L1910.3 268.9L1911.1 269.6L1911.9 270.7L1912.7 271.8L1913.5 272.9L1914.3 273.9L1915.1 274.5L1915.8 274.7L1915.9 274.7L1916.7 274.3L1917.5 273.4L1918.3 272.2L1919.1 270.7L1919.9 269.2L1920.7 267.9L1921.5 266.9L1922.3 266.3L1922.6 266.2L1923.1 266.4L1923.9 267L1924.7 268L1925.5 269.3L1926.3 270.7L1927.1 272.1L1927.9 273.2L1928.7 274L1929.5 274.3L1930.3 274L1931.1 273.1L1931.9 271.9L1932.7 270.5L1933.5 269.3L1934.3 268.3L1935.1 267.8L1935.3 267.8L1935.9 268L1936.7 268.6L1937.5 269.5L1938.3 270.6L1939.1 271.7L1939.9 272.7L1940.7 273.5L1941.5 274L1941.9 274.1L1942.3 274L1943.1 273.6L1943.9 272.8L1944.7 271.8L1945.5 270.8L1946.3 269.9L1947.1 269.2L1947.9 268.9L1948 268.9L1948.7 269.1L1949.5 269.7L1950.3 270.7L1951.1 271.7L1951.9 272.6L1952.7 273.2L1953.3 273.3L1953.5 273.3L1954.3 273L1955.1 272.4L1955.9 271.7L1956.7 270.8L1957.5 270L1958.3 269.3L1959.1 268.9L1959.8 268.7L1959.9 268.7L1960.7 269L1961.5 269.6L1962.3 270.4L1963.1 271.3L1963.9 272.2L1964.7 273L1965.5 273.5L1966.3 273.7L1967.1 273.5L1967.9 272.9L1968.7 272L1969.5 271L1970.3 270L1971.1 269.1L1971.9 268.5L1972.7 268.2L1972.8 268.2L1973.5 268.4L1974.3 268.9L1975.1 269.8L1975.9 270.7L1976.7 271.7L1977.5 272.5L1978.3 273.1L1979.1 273.3L1979.9 273.1L1980.7 272.6L1981.5 271.9L1982.3 271L1983.1 270.3L1983.9 269.6L1984.7 269.2L1985.2 269.1L1985.5 269.2L1986.3 269.5L1987.1 270.3L1987.9 271.1L1988.7 272.1L1989.5 272.9L1990.3 273.5L1991.1 273.7L1991.9 273.4L1992.7 272.8L1993.5 271.9L1994.3 271L1995.1 270.3L1995.9 269.8L1996.3 269.8L1996.7 269.8L1997.5 269.8L1998.3 269.9L1999.1 270L1999.9 270.2L2000.7 270.6L2001.5 271.1" fill="none" stroke="#0000ff" stroke-width="4.5" stroke-linejoin="round" stroke-linecap="round"/>
<g id="inset">
<rect x="1600" y="652" width="392.3" height="203" fill="#fff"/>
<polygon points="1612.2,828 1711.9,828 1867.7,753.8 1912.4,753.8 1912.4,704.4 1927.3,704.4 1948.7,723.5 1964.3,723.5 1964.3,773.6 1871.9,773.6 1717.1,847.7 1612.2,847.7" fill="#ff0000"/>
<path d="M1797.1 700.7H1803.3L1845.5 751.5" fill="none" stroke="#6a6a6a" stroke-width="1"/>
<path d="M1848.2 754.2L1839.2 746.6L1842.6 743.9Z" fill="#333"/>
<path d="M1848 753.8H1861.5" stroke="#111" stroke-width="3" fill="none"/>
<path d="M1862.5 706.5L1886.5 738.5" fill="none" stroke="#6a6a6a" stroke-width="1"/>
<path d="M1888.3 741.5L1880.8 733.2L1884.4 731Z" fill="#333"/>
<path d="M1888.6 741.5V753.8" stroke="#111" stroke-width="2.6" fill="none"/>
<text x="1721.5" y="717.3" font-size="45" fill="#111">D8</text>
<text x="1819" y="690.9" font-size="45" fill="#111">D5</text>
</g>
<path d="M182 760.5L182.5 764.3L183 767.6L183.5 769.9L183.6 770.1L184 768.7L184.5 766.5L185 763.9L185.5 761.1L186 758.4L186.5 756.1L187 754.3L187.1 754.1L187.5 756.8L188 761.9L188.5 767.5L189 772.2L189.2 773.6L189.5 772.7L190 770.3L190.5 767.2L191 763.7L191.5 760L192 756.5L192.5 753.3L193 750.8L193.3 749.6L193.5 750.6L194 754.5L194.5 759.7L195 764.7L195.5 768.5L195.6 769.2L196 767.7L196.5 764.8L197 761.4L197.5 757.9L198 755.2L198.3 754.1L198.5 754.9L199 758L199.5 762.1L200 766.5L200.5 770.6L201 774L201.3 775.4L201.5 774.8L202 772.7L202.5 769.8L203 766.6L203.5 763.2L204 759.9L204.5 757L205 754.8L205.2 754.1L205.5 755.2L206 758.3L206.5 762.1L207 765.7L207.5 768.2L207.5 768.3L208 766.5L208.5 763.8L209 760.6L209.5 757.3L210 754.5L210.5 752.4L210.6 752.3L211 754.8L211.5 758.9L212 763.4L212.5 767.3L212.9 769.2L213 768.8L213.5 767.1L214 764.9L214.5 762.3L215 759.8L215.5 757.5L216 756L216.1 755.9L216.5 757.9L217 761.5L217.5 765.4L218 769.1L218.5 771.7L218.5 771.8L219 770L219.5 767.1L220 763.6L220.5 759.8L221 756.2L221.5 753.1L222 750.8L222.1 750.5L222.5 752.5L223 756.2L223.5 760.5L224 764.7L224.5 768L224.8 769.2L225 768.4L225.5 765.9L226 762.8L226.5 759.5L227 756.5L227.5 754.4L227.6 754.1L228 756L228.5 759.6L229 763.8L229.5 767.8L230 770.6L230.1 771L230.5 769.4L231 766.7L231.5 763.4L232 759.9L232.5 756.7L233 754.2L233.3 753.2L233.5 754L234 756.9L234.5 760.7L235 764.6L235.5 768L236 770.1L236.5 768.1L237 765.4L237.5 762.4L238 759.3L238.5 756.5L239 754.5L239.1 754.1L239.5 756.1L240 760.3L240.5 765.5L241 771L241.5 776.4L242 781L242.5 784.2L242.5 784.3L243 783.7L243.5 782.8L244 781.9L244.5 781.1L244.8 780.7L245 781.3L245.5 784L246 787.5L246.5 790.9L247 793.6L247.1 794L247.5 791.3L248 785.9L248.5 779.2L249 771.9L249.5 764.8L250 758.4L250.5 753.6L250.7 752.3L251 753.9L251.5 757.8L252 762L252.5 764.7L253 764L253.5 763.2L253.7 763L254 764.3L254.5 767.7L255 772L255.5 776.8L256 781.8L256.5 786.7L257 791L257.5 794.4L257.8 795.8L258 794.9L258.5 791.6L259 787.2L259.5 782.3L260 777.4L260.5 772.8L261 769.2L261.3 767.4L261.5 768.2L262 772.6L262.5 778.3L263 784.2L263.5 789.2L263.8 791.4L264 791L264.5 789.3L265 786.9L265.5 784.4L266 781.8L266.5 779.7L267 778.1L267 778.1L267.5 779.9L268 782.7L268.5 786L269 789.5L269.5 792.6L270 795L270.2 795.8L270.5 793.9L271 788.5L271.5 782.1L272 776.4L272.4 773.6L272.5 774.2L273 777.2L273.5 781.4L274 786L274.5 790.5L275 794.5L275.5 797.4L275.6 797.6L276 795.1L276.5 791L277 786.1L277.5 780.6L278 775.1L278.5 769.7L279 764.9L279.5 761.2L279.8 759.4L280 759.6L280.5 760.5L281 761.6L281.5 762.6L281.8 763L282 762.5L282.5 760.8L283 758.7L283.5 756.9L283.9 755.9L284.5 763.4L285 772.7L285.5 782.9L286 792.1L286.5 798.7L286.6 799.4L287 797.8L287.5 795.2L288 792.1L288.5 789.1L289 786.8L289.2 786L289.5 786.1L290 786.2L290.5 786.4L291 786.5L291.5 786.8L291.9 786.9L292.5 789.5L293 792.6L293.5 795.9L294 799.3L294.5 802.3L295 804.4L295.1 804.7L295.5 803.9L296 802.7L296.5 801.2L297 799.4L297.5 797.5L298 795.6L298.5 793.6L299 791.8L299.5 790.1L300 788.6L300.5 787.4L300.8 786.9L301 787L301.5 787.3L302 787.6L302.5 787.9L303 788.3L303.5 788.8L304 789.2L304.3 789.6L304.5 791L305 796.6L305.5 803.9L306 812.1L306.5 820.3L307 828L307.5 834.2L307.9 837.6L308.5 831.6L309 825L309.5 817.1L310 808.5L310.5 799.4L311 790.3L311.5 781.5L312 773.5L312.5 766.6L313 761.2L313.2 759.4L313.5 760.7L314 763.8L314.5 767.7L315 772.2L315.5 776.9L316 781.6L316.5 785.9L317 789.7L317.5 792.5L317.7 793.2L318 791.9L318.5 789L319 786L319.4 784.3L320 791.1L320.5 799.9L321 808.6L321.5 814.9L321.6 815.4L322 812.1L322.5 806.9L323 800.5L323.5 793.6L324 786.4L324.5 779.4L325 773L325.5 767.8L325.6 766.5L326 765.3L326.5 763.5L327 761.9L327.5 760.4L328 759.1L328.5 758L329 757L329.2 756.7L329.5 759L330 764.5L330.5 771.4L331 778.8L331.5 785.9L332 791.7L332.4 794.9L333 787.7L333.5 778.9L334 769.7L334.5 761.7L334.9 757.6L335.5 764.2L336 771.8L336.5 780.7L337 790.1L337.5 799.4L338 808L338.5 815.1L339 819.8L339.5 816.3L340 811.4L340.5 805.8L341 800.2L341.5 795.5L342 792.3L342.5 797.3L343 804.6L343.5 812.5L344 819L344.3 821.6L344.5 819L345 809.6L345.5 797.4L346 784.6L346.5 773.5L347 766.5L347.5 770.9L348 776.1L348.4 778.9L349 765.8L349.5 750.7L350 736L350.5 725.8L350.5 725.7L351 726.4L351.5 727.5L352 728.8L352.5 730.3L353 732.1L353.2 732.8L353.5 745.4L354 774.2L354.5 806.9L355 835L355.3 846.4L355.5 846.3L356 845.8L356.5 845.2L357 844.5L357.5 843.9L358 843.3L358.5 842.9L358.5 842.9L359 844.5L359.5 846.9L360 849.5L360.5 851.7L360.8 852.7L361 852L361.5 849.2L362 845.5L362.5 841.5L363 837.7L363.5 834.5L363.8 833.1L364 834L364.5 837.7L365 842.6L365.5 848.2L366 854L366.5 859.3L367 863.6L367.4 866L368 860.7L368.5 854.7L369 847.6L369.5 839.9L370 832.1L370.5 824.6L371 818L371.5 812.6L371.8 810L372 810L372.5 809.8L373 809.6L373.5 809.4L374 809.3L374.5 809.2L374.8 809.1L375 810.5L375.5 817.6L376 826.8L376.5 836.1L377 843.2L377.2 844.7L377.5 844.7L378 844.7L378.5 844.7L379 844.7L379.5 844.7L379.8 844.7L380 845.4L380.5 848.1L381 851.7L381.5 855.8L382 860.3L382.5 864.7L383 868.9L383.5 872.6L384 875.5L384.3 876.6L384.5 874.5L385 867.6L385.5 858.8L386 849.8L386.5 842L386.9 837.6L387.5 839.4L388 841.7L388.5 844.4L389 847.2L389.5 849.9L390 852.1L390.5 853.5L391 851.3L391.5 848.1L392 844.4L392.5 840.6L393 837.2L393.5 834.6L393.7 834L394 835.8L394.5 839.9L395 845.1L395.5 850.6L396 856L396.5 860.7L397 864L397.1 864.2L397.5 863.8L398 863.2L398.5 862.7L398.8 862.4L399 863L399.5 865.5L400 868.7L400.5 872.3L401 875.6L401.5 878.3L401.8 879.3L402 877.6L402.5 872.1L403 865L403.5 857.1L404 849L404.5 841.7L405 835.8L405.3 833.1L405.5 833.4L406 834.8L406.5 836.6L407 838.3L407.5 839.3L408 838.4L408.5 837.2L409 836.1L409.2 835.8L409.5 837.6L410 842.6L410.5 849L411 856L411.5 863.1L412 869.5L412.5 874.6L412.8 876.6L413 876L413.5 873.9L414 871.2L414.5 868.1L415 864.9L415.5 861.7L416 858.9L416.5 856.5L416.9 855.3L417 855.3L417.5 855.3L418 855.3L418.5 855.3L418.7 855.3L419 853.9L419.5 851.1L420 847.5L420.5 843.6L421 839.8L421.5 836.4L422 833.9L422.2 833.1L422.5 836.4L423 844.5L423.5 854.6L424 864.8L424.5 873.3L424.9 877.5L425 877L425.5 874.1L426 870.3L426.5 865.9L427 861.4L427.5 857.2L428 853.8L428.4 851.8L429 851.8L429.5 851.8L430 851.8L430.5 851.8L430.6 851.8L431 850.2L431.5 847.7L432 844.7L432.5 841.6L433 838.8L433.5 836.5L433.7 835.8L434 837.2L434.5 841.4L435 846.8L435.5 852.7L436 858.3L436.5 863.1L436.9 866L437.5 865.4L438 864.5L438.5 863.7L439 862.9L439.4 862.4L440 865.4L440.5 869.3L441 873.3L441.5 876.5L441.7 877.5L442 875.7L442.5 870.6L443 864.1L443.5 857.2L444 850.7L444.5 845.6L444.8 843.8L445 846.3L445.5 854.3L446 864.1L446.5 873.6L447 880.5L447.1 881.1L447.5 879.6L448 877.3L448.5 874.5L449 871.4L449.5 868.1L450 864.7L450.5 861.4L451 858.2L451.5 855.4L451.5 855.3L452 853.1L452.5 850.8L453 848.5L453.5 846.2L454 844L454.5 841.9L455 840.1L455.5 838.6L456 837.6L456.5 844.2L457 852.9L457.5 862.7L458 871.7L458.5 878.3L458.6 879.3L459 878.4L459.5 876.9L460 875L460.5 872.8L461 870.3L461.5 867.8L462 854.5L462.5 843.2L462.5 842.9L463 843.5L463.5 844.3L464 845.3L464.5 846.1L464.8 846.4L465 846.1L465.5 844.4L466 842.3L466.5 840L467 838L467.5 836.7L468 842.5L468.5 850.9L469 860.4L469.5 869.3L470 876.1L470.2 877.5L470.5 875.6L471 871.3L471.5 866.3L472 861.8L472.5 858.9L473 861.5L473.5 865.1L474 869.3L474.5 873.4L475 876.9L475.5 879.3L476 876.9L476.5 873.4L477 869.4L477.5 865.8L478 863L478.2 862.4L478.5 862.7L479 863.3L479.5 863.9L479.9 864.2L480.5 861.9L481 859L481.5 855.7L482 852L482.5 848.3L483 844.7L483.5 841.5L484 838.9L484.4 837.6L484.5 838.8L485 846L485.5 855.6L486 865.9L486.5 875.2L487 881.7L487 882L487.5 879.5L488 875.5L488.5 871L489 866.6L489.5 863.3L489.7 862.4L490 863.4L490.5 865.6L491 868.5L491.5 871.3L492 873.7L492.4 874.9L492.5 873.8L493 868.5L493.5 861.4L494 853.3L494.5 845.4L495 838.5L495.5 833.5L495.6 833.1L496 834.7L496.5 837.2L497 840.2L497.5 843.3L498 846L498.5 848L498.6 848.2L499 847.9L499.5 847.5L499.8 847.3L500 848.6L500.5 853.6L501 860.2L501.5 867.6L502 874.8L502.5 881.1L503 885.4L503 885.5L503.5 882.8L504 879L504.5 874.3L505 869.1L505.5 863.6L506 858L506.5 852.5L507 847.5L507.5 843L508 839.4L508.3 837.6L508.5 838.3L509 841.8L509.5 846.4L510 851.5L510.5 856.4L511 860.6L511 860.6L511.5 862.9L512 865.2L512.5 867.5L513 869.6L513.5 871.7L514 873.5L514.5 875.2L515 876.5L515.5 877.5L516 875.1L516.5 872L517 868.5L517.5 865.2L518 862.8L518.1 862.4L518.5 863.6L519 865.9L519.5 868.5L520 870.9L520.4 872.2L521 868.1L521.5 862.9L522 857L522.5 850.7L523 844.9L523.5 839.9L524 836.7L524.5 841.5L525 848.2L525.5 855.9L526 863.7L526.5 870.3L527 874.9L527.5 872.5L528 868.9L528.5 865.1L529 861.9L529.3 860.6L529.5 861.6L530 865.1L530.5 869.6L531 874.9L531.5 880.4L532 885.9L532.5 891L533 895.3L533.5 898.5L533.6 898.8L534 895.6L534.5 890.5L535 884.3L535.5 877.4L536 870.2L536.5 863.2L537 856.8L537.5 851.4L537.7 850L538 848.5L538.5 846.4L539 844.3L539.5 842.4L540 840.7L540.5 839.1L541 837.8L541.5 836.8L541.6 836.7L542 840.4L542.5 846.7L543 854.1L543.5 861.9L544 869L544.5 874.6L544.8 876.6L545 875.9L545.5 873.6L546 870.8L546.5 868.1L547 866.2L547.1 866L547.5 869.4L548 875.2L548.5 882.2L549 889.2L549.5 895.5L550 900.1L550.1 900.6L550.5 895.9L551 887.3L551.5 877.2L552 867.5L552.5 859.7L552.8 857.1L553 858.4L553.5 862.8L554 866.9L554.2 867.8L554.5 866.2L555 862.8L555.5 858.6L556 853.9L556.5 849.1L557 844.6L557.5 840.7L558 837.9L558.1 837.6L558.5 838.7L559 840.8L559.5 843.2L560 845.9L560.5 848.4L561 850.7L561.5 852.3L561.6 852.7L562 846.7L562.5 834.3L563 820.4L563.5 808.7L563.8 804.7L564 806.3L564.5 810.8L565 816.5L565.5 823.1L566 830.3L566.5 837.7L567 845.1L567.5 852.2L568 858.6L568.5 864L569 868L569.1 868.6L569.5 864.4L570 857L570.5 848.1L571 838.5L571.5 829.4L572 821.6L572.3 818L572.5 817.1L573 815.1L573.5 813.2L574 811.5L574.5 810L575 808.8L575.3 808.3L575.5 811.1L576 822.6L576.5 837.5L577 853.1L577.5 866.9L578 875.7L578.5 874L579 871.5L579.5 868.6L580 865.7L580.5 863.1L581 861.1L581.2 860.6L581.5 862L582 865.2L582.5 869.1L583 872.9L583.5 876.1L583.8 877.5L584 877L584.5 874.8L585 871.9L585.5 868.7L586 865.5L586.5 862.7L587 860.7L587 860.6L587.5 865.1L588 872.1L588.5 880.3L589 888.7L589.5 896L590 901.1L590.1 901.5L590.5 896.9L591 889.7L591.5 881L592 871.4L592.5 861.7L593 852.5L593.5 844.7L594 838.7L594.1 837.6L594.5 840.4L595 846.1L595.5 853.1L596 860.4L596.5 867L597 872L597.2 873.1L597.5 870.7L598 865.4L598.5 861L598.6 860.6L599 864.7L599.5 871.7L600 880L600.5 888.5L601 896.1L601.5 901.6L601.6 902.4L602 901.8L602.5 900.7L603 899.5L603.5 898.1L604 896.5L604.5 894.9L605 893.2L605.2 892.6L605.5 889.5L606 884L606.5 877.6L607 870.7L607.5 863.5L608 856.3L608.5 849.5L609 843.3L609.5 838L610 833.9L610.1 833.1L610.5 835.8L611 840.6L611.5 846.4L612 853L612.5 860L613 867L613.5 873.7L614 879.8L614.5 884.9L614.6 885.5L615 887.4L615.5 889.2L616 891.1L616.3 892.6L616.5 894.3L617 900.6L617.5 908.2L618 916.4L618.5 924.5L619 932L619.5 938L619.9 941.5L620.5 936.5L621 931L621.5 924.4L622 917.2L622.5 909.4L623 901.4L623.5 893.6L624 886L624.5 879L625 872.9L625.5 868L625.9 865.2L626 866.2L626.5 871.1L627 877.6L627.5 885.3L628 893.6L628.5 902.1L629 910.2L629.5 917.5L630 923.4L630.4 927.2L631 923.8L631.5 919.6L632 915.6L632.4 913.5L633 915.1L633.5 916.9L634 918.9L634.5 920.7L635 922L635.5 920.6L636 918.7L636.5 916.4L637 914L637.5 911.9L638 910.2L638.3 909.6L638.5 910.2L639 912.1L639.5 914.5L640 916.9L640.5 919L640.9 920L641 919.4L641.5 916.3L642 912.1L642.5 907.3L643 902.3L643.5 897.5L644 893.6L644.5 890.7L644.5 890.6L645 896.1L645.5 904.4L646 913.9L646.5 922.7L647 929.3L647.1 930.4L647.5 928.6L648 925L648.5 920.6L649 916.1L649.5 912.2L650 909.6L650.5 911.4L651 914.1L651.5 917.2L652 920.4L652.5 923.4L653 925.7L653.3 926.5L653.5 925.3L654 921.5L654.5 916.8L655 912.4L655.5 909.6L656 911.6L656.5 914.3L657 917.5L657.5 920.7L658 923.4L658.5 925.2L659 921.3L659.5 915.9L660 909.6L660.5 903.2L661 897.3L661.5 892.8L661.7 891.3L662 892.6L662.5 896.4L663 900.6L663.4 903L664 896.5L664.3 892.6L664.5 892.1L665 890.6L665.5 889.4L666 888.5L666.3 888L666.5 889.4L667 894.1L667.5 900.3L668 907.4L668.5 914.5L669 920.9L669.5 926.1L669.8 928.5L670 928L670.5 926L671 923.5L671.5 920.6L672 917.9L672.5 915.7L672.8 914.8L673 915L673.5 916L674 917.4L674.5 918.7L675 919.9L675.4 920.6L676 915.8L676.5 909.5L677 902.4L677.5 895.4L678 889.5L678.4 886.1L679 886.6L679.5 887.3L680 888.2L680.3 888.7L680.5 890.9L681 897.4L681.5 905.1L682 912.5L682.5 917.9L682.6 918.7L683 917.5L683.5 915.2L684 912.8L684.5 911L684.6 910.9L685 912.6L685.5 915.6L686 919L686.5 922.5L687 925.4L687.4 927.2L688 925.2L688.5 922.7L689 919.9L689.5 917.2L690 914.8L690.4 913.5L691 915.9L691.5 919L692 922.2L692.5 924.9L692.8 925.9L693 923.8L693.5 917.1L694 908.3L694.5 899L695 890.5L695.5 884.1L695.6 882.8L696 884.6L696.5 888.3L697 892.7L697.5 897.1L698 900.5L698.3 901.7L698.5 900.8L699 898.1L699.5 894.7L700 891L700.5 887.7L701 885.2L701.1 884.8L701.5 886.5L702 889.6L702.5 893.5L703 897.9L703.5 902.4L704 906.8L704.5 910.8L705 914.1L705.4 916.1L706 913.8L706.5 911L707 908.3L707.4 907L708 909.3L708.5 912.1L709 915L709.5 917.3L709.7 918L710 916.2L710.5 911L711 904.4L711.5 897.5L712 891.3L712.5 886.7L712.6 886.1L713 886.9L713.5 888.1L714 889.6L714.5 891.4L715 893.2L715.5 895.2L716 897.1L716.5 899.1L716.5 899.1L717 901.5L717.5 904.1L718 906.9L718.5 909.7L719 912.7L719.1 913.5L719.5 916.7L720 921.7L720.5 926.5L721 930L721.1 930.4L721.5 928.5L722 925L722.5 920.9L723 916.5L723.5 912.5L724 909.2L724.3 907.6L724.5 908.2L725 910.8L725.5 914.3L726 918.1L726.5 921.7L727 924.4L727.2 925.2L727.5 922.8L728 916.6L728.5 908.8L729 900.6L729.5 893L730 887.1L730.2 885.4L730.5 888.7L731 897.1L731.5 907.6L732 918.1L732.5 926.7L732.8 930.4L733 929.3L733.5 925L734 919.4L734.5 912.9L735 906L735.5 899.2L736 893L736.5 887.8L737 884.1L737.5 885.4L738 886.9L738.5 888.8L739 890.9L739.5 893.3L740 895.8L740.5 898.4L740.6 899.1L741 902.7L741.5 908.6L742 913.5L742.5 917.1L743 920.3L743.5 923.3L744 926L744.5 928.3L745 929.8L745.5 921.6L746 910.7L746.5 899.5L747 890.7L747.2 888.7L747.5 888.5L748 888.3L748.5 888.1L749 887.9L749.5 887.8L750 887.6L750.4 887.4L751 886.6L751.5 885.7L752 884.9L752.5 884.1L753 883.5L753 883.5L753.5 885.7L754 889.2L754.5 893.2L755 897L755.5 899.9L755.6 900.4L756 899.2L756.5 896.6L757 893.7L757.5 891.6L757.6 891.3L758 891.5L758.5 891.7L759 892.1L759.5 892.5L759.6 892.6L760 899.5L760.5 910.8L761 922.3L761.5 930.3L761.5 930.4L762 925L762.5 916.8L763 907.3L763.5 897.7L764 889.4L764.5 883.6L764.5 883.5L765 884.8L765.5 886.9L766 889.2L766.5 891.8L767 894.2L767.5 896.3L768 897.7L768 897.8L768.5 897.3L769 896.5L769.5 895.8L770 895.2L770.5 900.2L771 907.6L771.5 915.4L772 922.2L772.3 925.2L772.5 924.2L773 919.7L773.5 913.6L774 906.8L774.5 899.8L775 893.3L775.5 888.1L775.9 885.4L776 886.4L776.5 891.6L777 898.6L777.5 906.4L778 914.3L778.5 921.2L779 926.3L779.1 927.2L779.5 925.1L780 921.1L780.5 916.4L781 911.7L781.5 908.1L781.7 907L782 908L782.5 910.9L783 914.5L783.5 918.3L784 921.7L784.5 924.2L784.6 924.6L785 921.2L785.5 915L786 907.5L786.5 899.9L787 893.1L787.5 888.1L787.6 887.4L788 890L788.5 895L789 900.3L789.5 904.1L789.6 904.3L790 902.3L790.5 899.1L791 895.1L791.5 891L792 887.2L792.5 884.2L792.8 882.8L793 884.6L793.5 891.9L794 901.5L794.5 911.6L795 920.2L795.4 925.2L796 919.8L796.5 913.1L797 905.3L797.5 897.4L798 890.3L798.5 884.9L798.7 883.5L799 885.7L799.5 891.2L800 897.3L800.5 902.2L800.6 903L801 902.9L801.5 902.5L802 902.1L802.5 901.8L802.6 901.7L803 905L803.5 910.9L803.9 914.8L804.5 916.5L805 917.9L805.5 919.2L806 920.3L806.5 921.3L807 922.2L807.5 922.9L807.8 923.3L808 922.2L808.5 917.9L809 912.3L809.5 906.2L810 900.6L810.5 896.3L810.7 895.2L811 895.8L811.5 897.1L812 898.4L812.4 899.1L813 897.3L813.5 895.1L814 892.7L814.5 890.3L815 888.4L815.4 887.4L816 889.9L816.5 892.8L817 896.1L817.5 899.7L817.6 900.4L818 906L818.5 914.3L819 921.2L819.2 922.6L819.5 921.5L820 919.1L820.5 916.2L821 913.4L821.5 911.1L821.8 910.2L822 910.9L822.5 913.2L823 916.1L823.5 918.9L824 921L824.1 921.3L824.5 918.4L825 912.7L825.5 905.8L826 898.4L826.5 891.5L827 885.8L827.4 882.8L828 884.2L828.5 885.6L829 887.2L829.5 889L830 891L830.5 893.1L831 895.2L831.5 897.3L831.9 899.1L832.5 902.5L833 906L833.5 909.6L834 913.3L834.5 916.9L835 920L835.5 922.5L835.9 923.9L836 923.6L836.5 921.8L837 919.4L837.5 916.7L838 914L838.5 911.6L839 909.9L839.1 909.6L839.5 911L840 913.9L840.5 917.2L841 920L841.3 921.3L841.5 920.5L842 916.8L842.5 911.9L843 906.2L843.5 900.5L844 895L844.5 890.5L845 887.4L845.5 888.5L846 890L846.5 891.7L847 893.6L847.5 895.7L848 897.8L848.5 900L849 902.1L849.5 904.1L849.6 904.3L850 906.4L850.5 908.8L851 911.4L851.5 913.9L852 916.1L852.5 917.9L852.8 918.7L853 917.7L853.5 913.8L854 908.7L854.5 903L855 897.1L855.5 891.8L856 887.5L856.3 885.4L856.5 885.8L857 887.1L857.5 888.7L858 890.6L858.5 892.7L859 895L859.5 897.3L860 899.7L860.5 902.1L861 904.4L861.3 905.6L861.5 906.7L862 909.4L862.5 912.3L863 915.2L863.5 917.8L864 920.1L864.5 921.8L864.6 922L865 917.7L865.5 910.7L866 902.5L866.5 894.4L867 887.5L867.4 883.5L868 889.2L868.5 896.5L869 904.6L869.5 912.6L870 919.4L870.4 923.3L871 922L871.5 920.4L872 918.6L872.5 916.7L873 915.1L873.5 913.8L873.7 913.5L874 913.9L874.5 914.8L875 915.9L875.5 916.9L875.9 917.4L876.5 912.3L877 906L877.5 899L878 892.2L878.5 886.6L878.9 883.5L879.5 885.6L880 888.2L880.5 891L881 893.5L881.5 895.2L881.5 895.2L882 893.4L882.5 890.6L883 887.8L883.5 886.1L884 887.2L884.5 888.6L885 890.4L885.5 892.2L886 894.1L886.5 895.7L887 897.1L887.4 897.8L887.5 897.6L888 895.9L888.5 893.6L889 891.2L889.5 888.9L890 887.1L890.2 886.7L890.5 887.6L891 889.4L891.5 891.8L892 894.1L892.5 896.3L893 897.7L893 897.8L893.5 896.7L894 894.9L894.5 892.7L895 890.5L895.5 888.4L896 886.8L896.3 886.1L896.5 887.6L897 893.2L897.5 900.5L898 908.5L898.5 916L899 922.1L899.3 924.6L899.5 923.4L900 919.3L900.5 913.9L901 907.8L901.5 901.6L902 895.9L902.5 891.4L902.8 889.3L903 890L903.5 892.9L904 896.7L904.5 900.3L905 902.9L905 903L905.5 900.5L906 896.5L906.5 891.8L907 887.4L907.5 884.1L907.7 883.5L908 884.7L908.5 887.2L909 890.3L909.5 893.6L910 896.5L910.5 898.7L910.7 899.1L911 898.1L911.5 895.9L912 893.4L912.5 891.6L912.6 891.3L913 894L913.5 899.1L914 905.2L914.5 911.7L915 917.7L915.5 922.7L915.9 925.2L916 924.2L916.5 918.7L917 911.3L917.5 903.1L918 895.2L918.5 888.7L918.9 885.4L919 885.7L919.5 886.7L920 888.1L920.5 889.8L921 891.5L921.5 893.4L922 895.2L922.5 898L923 901.2L923.5 904.6L924 907.9L924.5 910.9L925 913.2L925.3 914.1L925.5 913.3L926 911.2L926.5 908.6L927 905.5L927.5 902.2L928 898.8L928.5 895.3L928.9 892.6L929.5 887.4L930 882.4L930.5 877.4L931 872.7L931.5 868.8L931.9 866.5L932.5 878.3L933 891.5L933.5 900.4L934 897.8L934.5 894.2L935 890.2L935.5 886.5L936 883.8L936.1 883.5L936.5 888L937 896.1L937.5 905.5L938 914.5L938.5 921.5L938.7 923.3L939 920.2L939.5 912.8L940 904.3L940.5 896.9L940.6 895.2L941 893.7L941.5 891.7L942 889.9L942.5 888.4L943 887.4L943.5 890L944 893.7L944.5 897.7L945 900.9L945.2 901.7L945.5 900.7L946 897.8L946.5 894.5L947 891.9L947.2 891.3L947.5 893.4L948 897.9L948.5 903.6L949 909.7L949.5 915.5L950 920.4L950.4 923.3L951 920.2L951.5 916.3L952 912.7L952.4 910.9L953 911.2L953.5 911.6L954 912L954.3 912.2L954.5 911.7L955 909.4L955.5 906.5L956 903.1L956.5 899.4L957 895.8L957.5 892.4L958 889.4L958.5 887.2L958.6 886.7L959 890.1L959.5 897.2L960 905.8L960.5 914.6L961 922.3L961.5 927.7L961.5 927.8L962 925.4L962.5 921.8L963 917.5L963.5 913.3L964 909.6L964.5 907L964.5 907L965 909L965.5 912.2L966 915.8L966.5 919.4L967 922.3L967.4 923.9L968 917.8L968.5 910.6L969 902.5L969.5 894.7L970 888.2L970.4 884.8L971 888.2L971.5 892.2L972 896.4L972.5 900L972.9 901.7L973 901.3L973.5 899.2L974 896.3L974.5 893L975 889.9L975.5 887.4L975.9 886.1L976 887L976.5 891.7L977 898.1L977.5 905.4L978 912.6L978.5 919L979 923.7L979.1 924.6L979.5 923.2L980 920.6L980.5 917.5L981 914.1L981.5 910.9L982 908.3L982.4 907L983 909.4L983.5 911.6L983.7 912.2L984 906L984.3 897.8L984.5 896.1L985 890.8L985.5 885.8L986 881.1L986.5 877L987 873.6L987.5 870.9L987.6 870.4L988 872.6L988.5 876.5L989 881.2L989.5 886.4L990 891.5L990.5 896.2L990.9 899.1L991 899.8L991.5 902.3L992 904.8L992.5 907.2L993 909.5L993.5 911.5L994 913.3L994.5 914.8L994.8 915.4L995 914.4L995.5 911.3L996 907.3L996.5 902.7L997 897.9L997.5 893.3L998 889.3L998.5 886.3L998.7 885.4L999 885.7L999.5 886.4L1000 887.3L1000.5 888.4L1000.6 888.7L1001 893L1001.5 901.7L1002 910.9L1002.5 917.8L1002.6 918.7L1003 917.3L1003.5 914.6L1004 911.8L1004.5 909.7L1004.6 909.6L1005 911.6L1005.5 915L1006 918.7L1006.5 922.1L1006.9 923.9L1007.5 918.1L1008 911L1008.5 902.9L1009 894.9L1009.5 888L1010 883.1L1010 882.8L1010.5 884.2L1011 886.3L1011.5 888.8L1012 891.4L1012.5 893.6L1013 895.1L1013 895.2L1013.5 894L1014 892.1L1014.5 890L1015 887.9L1015.5 886.4L1015.6 886.1L1016 889.3L1016.5 896L1017 904.1L1017.5 912.6L1018 920.3L1018.5 926L1018.6 927.2L1019 925.4L1019.5 922L1020 917.8L1020.5 913L1021 907.9L1021.5 902.8L1022 897.9L1022.5 893.5L1023 889.9L1023.5 887.4L1024 892.4L1024.5 898.3L1024.8 900.4L1025 899.6L1025.5 896.6L1026 892.9L1026.5 889.1L1027 885.8L1027.4 884.1L1028 885L1028.5 886L1029 887.2L1029.5 888.6L1030 890L1030.5 894.4L1031 900.1L1031.5 906L1032 911.5L1032.5 915.5L1032.6 916.1L1033 915.1L1033.5 913.2L1034 911.1L1034.5 909.7L1034.6 909.6L1035 912.3L1035.5 917L1036 921.8L1036.5 925.2L1036.5 925.2L1037 917.3L1037.5 905.5L1038 893.3L1038.5 884.8L1039 882.7L1039.5 880.9L1040 879.3L1040.5 878L1041 876.9L1041.3 876.3L1041.5 877.1L1042 881.3L1042.5 886.2L1043 889.8L1043 890L1043.5 889.5L1044 888.7L1044.5 887.9L1045 887.4L1045.5 893.3L1046 901.9L1046.5 911.5L1047 920.4L1047.5 926.9L1047.6 927.8L1048 926.5L1048.5 924.3L1049 921.7L1049.5 918.7L1050 915.4L1050.5 912L1050.9 909.6L1051 908.1L1051.5 901.5L1052 895.4L1052.2 893.9L1052.5 893.1L1053 892L1053.5 891L1054 890L1054.5 889.2L1055 888.5L1055.5 887.9L1056 887.5L1056.1 887.4L1056.5 888.9L1057 891.6L1057.5 894.8L1058 898L1058.5 900.7L1058.9 902.4L1059.5 900.1L1060 897L1060.5 893.5L1061 890.1L1061.5 887.2L1061.9 885.4L1062.5 887.6L1063 890.4L1063.5 893.5L1064 896.3L1064.5 898.3L1064.6 898.5L1065 896.9L1065.5 894.2L1066 891L1066.5 887.8L1067 885L1067.5 883L1067.6 882.8L1068 887.1L1068.5 894.2L1069 902.5L1069.5 911.2L1070 919L1070.5 925L1070.7 926.5L1071 924.7L1071.5 920.6L1072 915.4L1072.5 909.7L1073 904L1073.5 898.8L1074 894.6L1074.3 892.6L1074.5 893.3L1075 896.6L1075.5 899.9L1075.6 900.4L1076 897.2L1076.5 890.4L1077 882.3L1077.5 874.3L1078 868L1078.3 865.9L1078.5 867.4L1079 871.6L1079.5 877L1080 883.2L1080.5 889.9L1081 896.5L1081.5 902.8L1082 908.3L1082.5 912.7L1082.8 914.8L1083 914.6L1083.5 913.7L1084 912.5L1084.5 911.2L1085 910.2L1085.4 909.6L1086 912.1L1086.5 915.4L1087 919L1087.5 922.2L1088 924.5L1088 924.6L1088.5 919.3L1089 910.8L1089.5 901.2L1090 892.2L1090.5 885.4L1090.6 884.1L1091 885L1091.5 886.7L1092 888.7L1092.5 891L1093 893.5L1093.5 895.9L1093.9 897.8L1094.5 901.4L1095 904.7L1095.5 908L1096 910.8L1096.5 912.8L1096.5 912.8L1097 910.1L1097.5 906.2L1098 901.6L1098.5 897.1L1099 893.3L1099.1 892.6L1099.5 891.5L1100 890L1100.5 888.6L1101 887.4L1101.5 886.4L1102 885.6L1102.1 885.4L1102.5 888.6L1103 894.7L1103.5 902.1L1104 909.9L1104.5 917L1105 922.6L1105.3 924.6L1105.5 923.8L1106 921.8L1106.5 919.3L1107 916.4L1107.5 913.3L1108 910L1108.3 908.3L1108.5 905.3L1109 898.1L1109.5 891.8L1109.6 891.3L1110 889.8L1110.5 888.3L1111 886.9L1111.5 885.6L1112 884.5L1112.5 883.6L1113 882.9L1113.1 882.8L1113.5 884.7L1114 887.9L1114.5 891.7L1115 895.6L1115.5 899L1116 901.5L1116.1 901.7L1116.5 899.3L1117 895.1L1117.5 890.7L1118 887.5L1118 887.4L1118.5 887.2L1119 887.1L1119.5 886.9L1120 886.8L1120.5 886.8L1120.6 886.7L1121 892.8L1121.5 905.4L1122 917L1122.2 920L1122.5 919.1L1123 916.8L1123.5 913.9L1124 911L1124.5 908.5L1124.9 907L1125.5 909.8L1126 913.4L1126.5 916.8L1126.9 918.7L1127.5 912.7L1128 905.4L1128.5 897.1L1129 888.4L1129.5 880.4L1130 873.7L1130.4 869.8L1131 873.6L1131.5 878.3L1132 883.9L1132.5 889.8L1133 895.6L1133.5 900.8L1134 905L1134.3 907L1134.5 907L1135 907L1135.5 907L1136 907L1136.5 907L1136.9 907L1137.5 910.2L1138 914.4L1138.5 918.8L1139 922.5L1139.3 923.9L1139.5 921.7L1140 913.7L1140.5 903.6L1141 893.4L1141.5 884.9L1141.5 884.8L1142 880.7L1142.5 876.8L1143 873.4L1143.5 870.7L1143.7 869.8L1144 871.9L1144.5 877.9L1145 885.3L1145.5 892.3L1146 897.3L1146.1 897.8L1146.5 895.9L1147 892.9L1147.4 891.3L1147.5 891.9L1148 895.7L1148.5 900.7L1149 906.5L1149.5 912.3L1150 917.5L1150.5 921.5L1150.7 922.6L1151 919.9L1151.5 913.4L1152 905.4L1152.5 897.2L1153 890.2L1153.4 886.1L1154 887.6L1154.5 889.5L1155 891.7L1155.5 894.1L1156 896.4L1156.3 897.8L1156.5 898.9L1157 901.9L1157.5 905.1L1158 908.3L1158.5 911.4L1159 914L1159.5 915.9L1159.6 916.1L1160 914.3L1160.5 911.4L1161 907.9L1161.5 904L1162 899.8L1162.5 895.6L1163 891.7L1163.5 888.1L1164 885.1L1164.5 882.9L1164.5 882.8L1165 884.6L1165.5 887.4L1166 890.6L1166.5 893.8L1167 896.4L1167.4 897.8L1168 896.1L1168.5 894L1169 892.1L1169.3 891.3L1169.5 892L1170 895.1L1170.5 899.2L1171 903.9L1171.5 908.9L1172 913.9L1172.5 918.5L1173 922.4L1173.5 925.1L1173.5 925.2L1174 923L1174.5 919.9L1175 916.1L1175.5 911.9L1176 907.3L1176.5 902.6L1177 897.9L1177.5 893.4L1178 889.3L1178.5 885.6L1179 882.6L1179.4 880.9L1180 881.6L1180.5 882.4L1181 883.4L1181.5 884.5L1182 885.7L1182.5 887.1L1183 888.6L1183 888.7L1183.5 896.1L1184 907L1184.5 917.8L1185 925.2L1185.5 922.3L1186 918.1L1186.5 913.1L1187 907.8L1187.5 902.4L1188 897.6L1188.5 893.6L1188.9 891.3L1189.5 893.2L1190 895.4L1190.5 897.9L1191 900.2L1191.5 901.7L1191.5 901.7L1192 899.4L1192.5 895.9L1193 891.9L1193.5 887.9L1194 884.6L1194.4 882.8L1195 886.6L1195.5 891L1196 895.6L1196.5 899.3L1196.7 900.4L1197 899.5L1197.5 896.7L1198 893.2L1198.5 889.7L1199 886.8L1199.3 885.4L1199.5 886.7L1200 893L1200.5 901.2L1201 910.3L1201.5 918.7L1202 925.3L1202.2 927.2L1202.5 925.8L1203 922.8L1203.5 919L1204 914.7L1204.5 910L1205 905.2L1205.5 900.3L1206 895.7L1206.5 891.5L1206.5 891.3L1207 887.6L1207.5 883.5L1208 879.6L1208.5 876.1L1209 873.5L1209.1 873L1209.5 874.6L1210 877.5L1210.5 881.1L1211 885.1L1211.5 889.3L1211.7 891.3L1212 894.9L1212.5 903.2L1213 912L1213.5 919.7L1214 924.6L1214.5 922L1215 918.7L1215.5 914.8L1216 910.7L1216.5 906.7L1217 903.3L1217.5 900.8L1217.6 900.4L1218 905L1218.5 912.2L1218.6 913.5L1219 911.3L1219.5 906.8L1220 901.3L1220.5 895.5L1221 890.1L1221.5 885.8L1221.8 884.1L1222 885.7L1222.5 890.6L1223 896.9L1223.5 904.1L1224 911.4L1224.5 918.2L1225 923.8L1225.4 927.2L1226 925.8L1226.5 924.2L1227 922.3L1227.5 920.1L1228 917.5L1228.5 914.7L1228.7 913.5L1229 906.1L1229.3 897.8L1229.5 896.9L1230 894.3L1230.5 892L1231 889.9L1231.5 888.1L1232 886.5L1232.5 885.1L1233 884L1233.3 883.5L1233.5 884.2L1234 886.5L1234.5 889.5L1235 892.7L1235.5 895.8L1236 898.5L1236.5 900.4L1236.5 900.4L1237 898.6L1237.5 895.9L1238 892.8L1238.5 889.9L1239 887.7L1239.1 887.4L1239.5 888.4L1240 890.3L1240.5 892.6L1241 895.1L1241.5 897.5L1242 899.4L1242.4 900.4L1243 896.9L1243.5 892.8L1244 889.1L1244.3 887.4L1244.5 888.3L1245 892.7L1245.5 898.4L1246 905L1246.5 911.8L1247 918.1L1247.5 923.5L1248 927.2L1248.5 923.1L1249 917.4L1249.5 910.6L1250 903.3L1250.5 896.2L1251 889.8L1251.5 884.8L1251.8 882.8L1252 883.9L1252.5 887.5L1253 892.1L1253.5 896.5L1254 899.9L1254.1 900.4L1254.5 898.6L1255 894.8L1255.5 890.7L1256 887.7L1256.1 887.4L1256.5 890.5L1257 895.9L1257.5 902.5L1258 909.5L1258.5 916.3L1259 922.2L1259.5 926.5L1259.6 927.2L1260 924.8L1260.5 920.6L1261 915.4L1261.5 909.7L1262 904L1262.5 898.8L1263 894.4L1263.3 892.6L1263.5 892.1L1264 891L1264.5 890L1265 889L1265.5 888.2L1266 887.4L1266.5 886.8L1267 886.2L1267.2 886.1L1267.5 888.9L1268 895.1L1268.5 902.7L1269 910.6L1269.5 917.5L1270 922.4L1270 922.6L1270.5 918.6L1271 912.3L1271.5 904.9L1272 897.4L1272.5 890.9L1273 886.3L1273 886.1L1273.5 887.9L1274 890.7L1274.5 894L1275 897.5L1275.5 900.7L1276 903.3L1276.3 904.3L1276.5 903.5L1277 900.6L1277.5 896.7L1278 892.5L1278.5 888.6L1279 885.4L1279.3 884.1L1279.5 885.8L1280 891.7L1280.5 899.5L1281 908L1281.5 916.2L1282 923.1L1282.4 927.2L1283 923.6L1283.5 919.2L1284 914L1284.5 908.5L1285 903.3L1285.5 898.8L1286 895.6L1286.1 895.2L1286.5 896L1287 897.4L1287.5 899L1288 900.8L1288.5 902.4L1289 903.7L1289.3 904.3L1289.5 903.7L1290 900.7L1290.5 896.8L1291 892.6L1291.5 889L1291.9 886.7L1292.5 887.9L1293 889.3L1293.5 890.9L1294 892.8L1294.5 894.8L1295 896.8L1295.5 898.9L1295.9 900.4L1296 901.3L1296.5 904.9L1297 909L1297.5 913.2L1298 917.2L1298.5 920.8L1299 923.4L1299.1 923.9L1299.5 921.6L1300 917.1L1300.5 911.7L1301 905.7L1301.5 899.6L1302 893.9L1302.5 889.1L1303 885.6L1303 885.4L1303.5 887.7L1304 891.4L1304.5 895.6L1305 899.5L1305.5 902.5L1305.6 903L1306 899.8L1306.5 893.1L1306.9 888.7L1307.5 892.4L1308 897.3L1308.5 903L1309 909.1L1309.5 915.1L1310 920.5L1310.5 924.9L1310.9 927.2L1311 926.3L1311.5 921.5L1312 915.1L1312.5 907.8L1313 900.6L1313.5 894.2L1314 889.5L1314.1 888.7L1314.5 890.8L1315 894.9L1315.5 899.4L1316 902.7L1316.1 903L1316.5 901L1317 897.3L1317.5 893.1L1318 888.8L1318.5 885.1L1318.9 882.8L1319.5 888.4L1320 895.8L1320.5 904.2L1321 912.5L1321.5 919.6L1321.9 923.9L1322.5 919.5L1323 913.7L1323.5 907.1L1324 900.3L1324.5 894.1L1325 889.4L1325.2 888L1325.5 889.1L1326 892L1326.5 895.4L1327 898.9L1327.5 901.8L1327.8 903L1328 902.2L1328.5 898.3L1329 893.6L1329.5 889.5L1329.8 888L1330 889.5L1330.5 893.9L1331 899.7L1331.5 906.3L1332 912.9L1332.5 919.1L1333 924.1L1333.4 927.2L1334 920.6L1334.5 912.3L1335 903L1335.5 894.1L1336 887L1336.3 884.1L1336.5 884.3L1337 884.7L1337.5 885.3L1338 885.9L1338.5 886.7L1338.9 887.4L1339.5 892.5L1340 898.2L1340.5 904.3L1341 909.7L1341.5 913.4L1341.5 913.5L1342 913L1342.5 912.4L1343 911.6L1343.5 910.9L1344 908.3L1344.5 905.3L1345 901.9L1345.5 898.4L1346 894.8L1346.5 891.5L1347 888.7L1347.5 886.5L1347.6 886.1L1348 888.2L1348.5 892.3L1349 897.5L1349.5 903.2L1350 909L1350.5 914.4L1351 919L1351.5 922.3L1351.6 922.6L1352 919.8L1352.5 915.3L1353 909.9L1353.5 904.4L1354 899.4L1354.5 895.5L1354.6 895.2L1355 894.5L1355.5 893.7L1356 893L1356.5 892.4L1357 891.7L1357.5 891.1L1358 890.6L1358.5 890.1L1359 889.7L1359.5 889.3L1360 888.9L1360.4 888.7L1361 893.3L1361.5 898.9L1362 904.3L1362.4 907L1363 904.1L1363.5 900.7L1364 896.9L1364.5 893.1L1365 889.8L1365.5 887.2L1365.6 886.7L1366 890L1366.5 896.6L1367 904.7L1367.5 912.9L1368 920.2L1368.5 925.1L1368.5 925.2L1369 920.5L1369.5 913.4L1370 905.2L1370.5 896.9L1371 889.8L1371.5 884.9L1371.5 884.8L1372 888.5L1372.5 894L1373 899.5L1373.5 903L1374 895.6L1374.5 885.6L1375 875.9L1375.4 870.4L1376 874.3L1376.5 879L1377 884.6L1377.5 890.7L1378 896.9L1378.5 902.9L1379 908.4L1379.5 912.9L1380 916.1L1380.5 916.1L1381 916.1L1381.5 916.1L1382 916.1L1382.5 916.1L1382.6 916.1L1383 913L1383.5 907.2L1384 900.9L1384.5 895.6L1384.6 895.2L1385 893.6L1385.5 891.9L1386 890.3L1386.5 888.8L1387 887.6L1387.5 886.6L1387.8 886.1L1388 886.6L1388.5 888.5L1389 890.9L1389.5 893.6L1390 896.6L1390.5 899.6L1391 902.6L1391.1 903L1391.5 906.3L1392 910.5L1392.5 914.5L1393 917.3L1393 917.4L1393.5 916.1L1394 914.2L1394.5 912.2L1395 910.9L1395.5 914L1396 918.3L1396.5 922.6L1396.9 925.2L1397.5 918.6L1398 909.9L1398.5 900.3L1399 891.2L1399.5 884.1L1399.6 883.5L1400 881.7L1400.5 879.9L1401 878.3L1401.5 877L1402 875.9L1402.2 875.7L1402.5 878.3L1403 884.2L1403.5 890.7L1404 895.8L1404.1 896.5L1404.5 894.8L1405 891.4L1405.5 887.7L1406 885L1406.1 884.8L1406.5 890.3L1407 899.9L1407.5 910.8L1408 920.4L1408.4 925.9L1409 919.6L1409.5 911.8L1410 903.1L1410.5 894.8L1411 888.3L1411.1 887.4L1411.5 885.9L1412 884.2L1412.5 882.8L1413 881.6L1413.4 880.9L1414 885L1414.5 890.2L1415 896.1L1415.5 902.2L1416 907.9L1416.3 910.9L1416.5 912.2L1417 915.8L1417.5 919.3L1418 922.6L1418.5 925.7L1419 928.3L1419.5 930.2L1419.6 930.4L1420 926.7L1420.5 920.7L1421 913.4L1421.5 905.7L1422 898.3L1422.5 891.9L1422.8 888.7L1423 888.1L1423.5 886.4L1424 884.9L1424.5 883.5L1425 882.3L1425.5 881.4L1425.8 880.9L1426 881.2L1426.5 882.4L1427 884L1427.5 885.9L1428 888L1428.5 890.4L1428.7 891.3L1429 895.7L1429.5 905.3L1430 915.9L1430.5 925.2L1430.9 930.4L1431.5 928.8L1432 927.1L1432.5 925.1L1433 922.7L1433.5 920.1L1434 917.1L1434.5 913.9L1434.6 913.5L1435 903.8L1435.2 899.1L1435.5 896L1436 890.6L1436.5 885.5L1437 880.7L1437.5 876.3L1438 872.4L1438.5 869.1L1439 866.4L1439.1 865.9L1439.5 868.3L1440 872.9L1440.5 878.5L1441 884.9L1441.5 891.5L1442 898.1L1442.5 904.2L1443 909.5L1443.5 913.6L1443.7 914.8L1444 914.2L1444.5 912.7L1445 911.1L1445.5 909.8L1445.7 909.6L1446 911.4L1446.5 915.4L1447 920L1447.5 924.3L1448 927.2L1448.5 922.3L1449 915.4L1449.5 907.1L1450 898.1L1450.5 889L1451 880.4L1451.5 872.9L1452 867.3L1452.2 865.9L1452.5 870.1L1453 879.9L1453.5 890.7L1454 899.1L1454.1 900.4L1454.5 899.3L1455 897.1L1455.5 894.8L1455.8 893.9L1456 894.8L1456.5 898.5L1457 903.4L1457.5 908.9L1458 914.5L1458.5 919.7L1459 923.9L1459.3 925.9L1459.5 924.8L1460 920.2L1460.5 914L1461 907.1L1461.5 900L1462 893.5L1462.5 888.3L1462.6 887.4L1463 886.1L1463.5 884.6L1464 883.3L1464.5 882.2L1465 881.5L1465.5 882.1L1466 882.7L1466.5 883.5L1467 884.4L1467.5 885.4L1467.8 886.1L1468 887.6L1468.5 893.3L1469 900.5L1469.5 908.2L1470 915.8L1470.5 922.4L1471 927.2L1471.1 927.8L1471.5 926.9L1472 925.6L1472.5 923.9L1473 922.1L1473.5 920.1L1474 917.9L1474.5 915.7L1475 913.5L1475.5 909.9L1476 906L1476.5 901.8L1477 897.8L1477.5 890.7L1478 883.6L1478.5 878L1478.6 877L1479 877.7L1479.5 879L1480 880.7L1480.5 882.6L1481 884.8L1481.5 887.3L1481.5 887.4L1482 897.2L1482.5 910.1L1483 920.3L1483.1 921.3L1483.5 920.1L1484 917.9L1484.5 915.2L1485 912.5L1485.5 910.2L1486 908.5L1486.1 908.3L1486.5 909.7L1487 912.2L1487.5 914.4L1487.6 914.8L1488 911.7L1488.5 905.2L1489 897.3L1489.5 888.9L1490 880.8L1490.5 874.2L1490.9 870.4L1491.5 872.9L1492 875.6L1492.5 878.8L1493 882.3L1493.5 886.2L1494 890.2L1494.5 894.4L1495 898.6L1495.2 900.4L1495.5 904.3L1496 912L1496.5 918.5L1496.5 918.7L1497 920.6L1497.5 922.4L1498 924L1498.5 925.4L1499 926.5L1499.4 927.2L1500 921.4L1500.5 914.6L1501 906.8L1501.5 898.5L1502 890.4L1502.5 883.2L1503 877.4L1503.3 875L1503.5 875.6L1504 877.7L1504.5 880.4L1505 883.4L1505.5 886.8L1506 890.2L1506.5 893.6L1507 896.5L1507.5 900.4L1508 904.1L1508.5 907.8L1508.9 910.9L1509.5 915.7L1510 920.1L1510.5 924.1L1511 927.3L1511.3 928.5L1511.5 926.5L1512 920.8L1512.5 913.5L1513 905.4L1513.5 897.6L1514 890.9L1514.5 886.2L1514.5 886.1L1515 888.3L1515.5 891.7L1516 895.6L1516.5 899.5L1517 902.7L1517.4 904.3L1518 901L1518.5 897L1519 893L1519.5 889.7L1519.7 888.7L1520 890.9L1520.5 896.9L1521 904.6L1521.5 912.6L1522 919.8L1522.5 925.1L1522.6 925.9L1523 923.3L1523.5 918.7L1524 913L1524.5 906.7L1525 900.4L1525.5 894.6L1526 889.7L1526.5 886.2L1526.5 886.1L1527 888.1L1527.5 891.1L1528 894.5L1528.5 897.7L1529 900L1529.1 900.4L1529.5 899.2L1530 896.7L1530.5 893.8L1531 891L1531.5 888.7L1531.7 888L1532 891.2L1532.5 900.3L1533 911.3L1533.5 921.9L1534 929.6L1534.1 930.4L1534.5 928.3L1535 924.8L1535.5 920.5L1536 915.8L1536.5 910.9L1537 906.3L1537.5 902.2L1538 899L1538.3 897.8L1538.5 898L1539 898.7L1539.5 899.6L1540 900.2L1540.2 900.4L1540.5 898.1L1541 891.8L1541.5 884.4L1542 877.6L1542.4 873.7L1543 879.1L1543.5 885.9L1544 893.9L1544.5 902.2L1545 910.2L1545.5 917.1L1546 922L1546.1 922.6L1546.5 920.4L1547 916.6L1547.5 912.6L1548 909.7L1548 909.6L1548.5 911.1L1549 913.5L1549.5 916.2L1550 919L1550.5 921.3L1550.9 922.6L1551.5 917.7L1552 911.7L1552.5 904.8L1553 897.4L1553.5 890.2L1554 883.8L1554.5 878.6L1554.8 876.3L1555 876.7L1555.5 878L1556 879.7L1556.5 881.6L1557 883.8L1557.5 886L1557.8 887.4L1558 888.7L1558.5 893L1559 897.9L1559.5 903.2L1560 908.6L1560.5 913.9L1561 919L1561.5 923.4L1562 927L1562.4 929.1L1563 922.1L1563.5 913.7L1564 904.5L1564.5 895.5L1565 888L1565.4 884.1L1566 887.5L1566.5 891.5L1567 895.8L1567.5 900L1568 903.2L1568.3 904.3L1568.5 902.9L1569 898.3L1569.5 893L1570 888.6L1570.2 887.4L1570.5 889.5L1571 894.7L1571.5 901.4L1572 908.7L1572.5 916L1573 922.5L1573.5 927.5L1573.7 929.1L1574 927.2L1574.5 922.1L1575 915.7L1575.5 908.5L1576 901.2L1576.5 894.5L1577 889L1577.4 886.1L1578 886.1L1578.5 886.1L1579 886.1L1579.5 886.1L1580 886.1L1580.5 886.1L1581 886.1L1581.5 886.1L1581.9 886.1L1582.5 890.5L1583 896.3L1583.5 903L1584 910.1L1584.5 916.7L1585 922.2L1585.5 925.9L1586 922.1L1586.5 917L1587 911L1587.5 904.7L1588 898.6L1588.5 893.3L1589 889.4L1589.1 888.7L1589.5 891.5L1590 897L1590.5 901.9L1590.7 903L1591 899.1L1591.5 889.5L1592 878.5L1592.5 869.2L1592.8 865.9L1593 867.3L1593.5 871.7L1594 877.4L1594.5 883.9L1595 890.9L1595.5 898.1L1596 905L1596.5 911.3L1597 916.7L1597.5 920.7L1597.6 921.3L1598 920L1598.5 917.7L1599 914.9L1599.5 912.2L1600 910.1L1600.2 909.6L1600.5 909.8L1601 910.6L1601.5 911.4L1602 912L1602.2 912.2L1602.5 910.8L1603 908L1603.5 904.4L1604 900.4L1604.5 896.4L1605 892.6L1605.5 889.4L1606 887L1606.1 886.7L1606.5 887L1607 887.4L1607.5 887.9L1608 888.5L1608.5 889.1L1609 889.8L1609.5 890.5L1610 891.3L1610.5 894.9L1611 899.5L1611.5 904.8L1612 910.3L1612.5 915.8L1613 920.8L1613.5 924.8L1613.9 927.2L1614.5 923.7L1615 919.7L1615.5 915L1616 909.8L1616.5 904.4L1617 899L1617.5 894L1618 889.6L1618.5 886L1618.9 884.1L1619 884.3L1619.5 885.2L1620 886.3L1620.5 887.6L1621 889L1621.5 890.6L1621.7 891.3L1622 893.2L1622.5 897.4L1623 902.4L1623.5 907.7L1624 913.2L1624.5 918.4L1625 923.2L1625.5 927.3L1626 930.3L1626 930.4L1626.5 927.5L1627 923L1627.5 917.6L1628 911.7L1628.5 905.6L1629 899.9L1629.5 895L1630 891.1L1630.2 890L1630.5 891.3L1631 894.8L1631.5 898.4L1631.9 900.4L1632.5 897.2L1633 893.4L1633.5 889.5L1634 886.5L1634.1 886.1L1634.5 889.2L1635 895.3L1635.5 902.7L1636 910.5L1636.5 917.9L1637 924L1637.4 927.2L1638 923.1L1638.5 918.5L1639 913.1L1639.5 907.4L1640 901.8L1640.5 896.9L1641 892.9L1641.3 891.3L1641.5 891.9L1642 894.2L1642.5 896.3L1642.6 896.5L1643 895.5L1643.5 893.7L1644 891.5L1644.5 889.2L1645 887.3L1645.5 886.1L1646 888.4L1646.5 891.4L1647 894.9L1647.5 898.8L1648 902.8L1648.5 906.5L1649 909.9L1649.5 912.5L1649.8 913.5L1650 913.4L1650.5 913.3L1651 913.1L1651.5 912.8L1652 912.5L1652.4 912.2L1653 890.6L1653 890L1653.5 893.4L1654 898.2L1654.3 900.4L1654.5 898.9L1655 891.5L1655.5 882.1L1656 872.9L1656.5 866.3L1656.6 865.9L1657 869.1L1657.5 874.3L1658 880.5L1658.5 887.4L1659 894.5L1659.5 901.3L1660 907.4L1660.5 912.3L1660.9 914.8L1661 914.4L1661.5 912.2L1662 910L1662.2 909.6L1662.5 910.2L1663 911.5L1663.5 913.1L1664 914.8L1664.5 916.5L1665 917.9L1665.4 918.7L1666 914.7L1666.5 909.8L1667 904.1L1667.5 898.1L1668 892.3L1668.5 887.3L1669 883.5L1669.1 882.8L1669.5 885.1L1670 889.6L1670.5 895.1L1671 901L1671.5 906.5L1672 911L1672.4 913.5L1673 913.5L1673.5 913.5L1674 913.5L1674.3 913.5L1674.5 914L1675 916.7L1675.5 920.2L1676 923.9L1676.5 927.1L1677 929.1L1677.5 922.7L1678 914.2L1678.5 904.5L1679 895.1L1679.5 887.5L1679.8 884.1L1680 884.6L1680.5 886.4L1681 888.9L1681.5 891.6L1682 894.2L1682.5 896.6L1682.8 897.8L1683 898.1L1683.5 898.8L1684 899.3L1684.5 900L1684.8 900.4L1685 901.6L1685.5 904.9L1686 908.9L1686.5 913.2L1687 917.5L1687.5 921.4L1688 924.5L1688.3 925.9L1688.5 924.6L1689 920L1689.5 914.1L1690 907.3L1690.5 900.1L1691 892.9L1691.5 886.2L1692 880.6L1692.5 876.3L1692.6 875.7L1693 877.7L1693.5 881.3L1694 885.7L1694.5 890.3L1695 894.8L1695.2 896.5L1695.5 898.6L1696 902.4L1696.5 906.4L1697 910.3L1697.5 914.2L1698 917.8L1698.5 921L1699 923.7L1699.5 925.8L1699.5 925.9L1700 923.1L1700.5 919.2L1701 914.5L1701.5 909.4L1702 904L1702.5 898.8L1703 894L1703.5 890L1703.7 888.7L1704 887.8L1704.5 886.3L1705 884.9L1705.5 883.7L1706 882.6L1706.5 881.8L1706.7 881.5L1707 882.1L1707.5 883.3L1708 884.9L1708.5 886.7L1709 888.8L1709.5 891L1709.6 891.3L1710 898.1L1710.5 908.4L1711 918.6L1711.5 925.7L1711.5 925.9L1712 924.8L1712.5 923.2L1713 921.4L1713.5 919.3L1714 917.1L1714.5 914.8L1714.8 913.5L1715 911.7L1715.5 906.8L1716 901.2L1716.5 895.8L1717 891.2L1717.4 888.7L1718 888.4L1718.5 888.2L1719 888L1719.5 887.8L1720 887.7L1720.5 887.5L1721 887.4L1721.3 887.4L1721.5 889.3L1722 897.1L1722.5 906.6L1723 914.7L1723.3 917.4L1723.5 917.2L1724 916.8L1724.5 916.2L1725 915.6L1725.5 914.9L1726 914.1L1726.5 913.3L1727 912.4L1727.5 911.5L1727.8 910.9L1728 909.9L1728.5 906.6L1729 902.6L1729.5 898.2L1730 894L1730.5 890.4L1731 887.7L1731.1 887.4L1731.5 891.2L1732 897.9L1732.5 905.9L1733 914.1L1733.5 921.3L1734 926.6L1734.1 927.2L1734.5 925.2L1735 922.2L1735.5 918.5L1736 914.3L1736.5 909.9L1737 905.4L1737.5 901.1L1738 897.1L1738.3 895.2L1738.5 893.8L1739 890.9L1739.5 887.8L1740 884.8L1740.5 882L1741 879.3L1741.5 877L1742 875L1742.4 873.7L1743 875.3L1743.5 877.1L1744 879.3L1744.5 881.8L1745 884.7L1745.4 887.4L1746 900.8L1746.5 913.5L1746.7 917.4L1747 917.1L1747.5 916.4L1748 915.5L1748.5 914.6L1749 913.8L1749.3 913.5L1749.5 913.9L1750 915.9L1750.5 918.6L1751 921.3L1751.5 923.4L1751.7 923.9L1752 920.8L1752.5 913.4L1753 904.6L1753.5 895.8L1753.9 890L1754.5 885.6L1755 882L1755.5 879L1756 876.7L1756.1 876.3L1756.5 877.8L1757 880.6L1757.5 884.1L1758 887.9L1758.5 891.8L1759 895.6L1759.1 896.5L1759.5 899.8L1760 904.6L1760.5 909.6L1761 914.7L1761.5 919.5L1762 923.7L1762.5 927.1L1762.8 928.5L1763 928L1763.5 926.6L1764 925L1764.5 923.1L1765 920.8L1765.5 918.3L1766 915.4L1766.3 913.5L1766.5 908L1767 889.9L1767.2 884.8L1767.5 886.1L1768 889.5L1768.5 893.5L1769 897.4L1769.5 900.2L1769.6 900.4L1770 898.4L1770.5 894.9L1771 890.9L1771.5 887L1772 884.1L1772.2 883.5L1772.5 884.9L1773 888.2L1773.5 892.2L1774 896.1L1774.5 899.3L1774.8 900.4L1775 899.7L1775.5 897.4L1776 894.3L1776.5 891L1777 887.7L1777.5 884.9L1778 882.9L1778 882.8L1778.5 886.3L1779 891.8L1779.5 897.3L1780 901.1L1780.5 898.4L1781 894.5L1781.5 890.2L1782 886.2L1782.5 883.2L1782.6 882.8L1783 884.4L1783.5 887.3L1784 890.7L1784.5 894.2L1785 897.2L1785.5 899.1L1786 897.6L1786.5 895.4L1787 892.9L1787.5 890.2L1788 887.7L1788.5 885.4L1789 883.8L1789.1 883.5L1789.5 885.2L1790 888.5L1790.5 892.5L1791 896.4L1791.5 899.5L1791.7 900.4L1792 898.9L1792.5 894.4L1793 888.9L1793.5 883.9L1794 880.9L1794.5 887.2L1795 895.5L1795.5 905L1796 914.3L1796.5 922.3L1797 927.2L1797.5 925L1798 922.2L1798.5 918.9L1799 915.6L1799.5 912.6L1800 910.2L1800.2 909.6L1800.5 910.9L1801 914.5L1801.5 918.6L1802 921.9L1802.2 922.6L1802.5 920.9L1803 917.5L1803.5 913.3L1804 908.4L1804.5 903.2L1805 898L1805.5 893L1806 888.6L1806.5 884.8L1807 882.2L1807.5 884.2L1808 886.8L1808.5 890L1809 893.5L1809.5 897.1L1810 900.4L1810.5 904.5L1811 908.6L1811.3 910.9L1811.5 912L1812 914.8L1812.5 917.6L1813 920.2L1813.5 922.5L1814 924.4L1814.3 925.2L1814.5 924L1815 920L1815.5 914.6L1816 908.5L1816.5 902.2L1817 896.1L1817.5 890.8L1818 886.7L1818.2 885.4L1818.5 886.4L1819 888.9L1819.5 892L1820 895.2L1820.5 898.1L1821 900.2L1821.1 900.4L1821.5 898.6L1822 895.5L1822.5 891.7L1823 888L1823.5 884.8L1823.9 882.8L1824.5 886.1L1825 890.5L1825.5 895.1L1826 898.9L1826.3 900.4L1826.5 899.8L1827 897.7L1827.5 894.9L1828 891.8L1828.5 888.8L1829 886.2L1829.5 884.3L1829.6 884.1L1830 886.5L1830.5 890.4L1831 894.8L1831.5 899.1L1832 902.3L1832.2 903L1832.5 901.7L1833 898.8L1833.5 895.5L1834 893L1834.1 892.6L1834.5 895.4L1835 900.7L1835.5 907.2L1836 914L1836.5 920L1837 924.5L1837.1 925.2L1837.5 922.4L1838 917L1838.5 910.4L1839 903.3L1839.5 896.4L1840 890.3L1840.5 885.7L1840.6 884.8L1841 886.4L1841.5 889.7L1842 893.4L1842.5 896.2L1842.6 896.5L1843 891.8L1843.5 883L1844 875.3L1844.2 873.7L1844.5 876L1845 880.8L1845.5 886.7L1846 893.4L1846.5 900.6L1847 907.7L1847.5 914.5L1848 920.5L1848.5 925.3L1848.9 927.8L1849 927.4L1849.5 925.8L1850 923.7L1850.5 921.4L1851 918.8L1851.5 916L1852 913L1852.5 909.9L1853 906.6L1853.5 903.3L1854 900L1854.3 897.8L1854.5 896.3L1855 890.6L1855.5 884.3L1856 878L1856.5 872.3L1857 867.8L1857.2 866.5L1857.5 867.9L1858 870.9L1858.5 874.6L1859 878.8L1859.5 883.5L1860 888.4L1860.5 893.4L1861 898.3L1861.5 903L1862 907.4L1862.5 911.3L1862.8 913.5L1863 914.1L1863.5 916L1864 917.8L1864.5 919.4L1865 920.9L1865.5 922L1865.8 922.6L1866 921.5L1866.5 917.3L1867 911.7L1867.5 905.4L1868 898.9L1868.5 893L1869 888.3L1869.3 886.1L1869.5 886.1L1870 886.1L1870.5 886.1L1871 886.1L1871.5 886.1L1872 886.1L1872.5 886.1L1873 886.1L1873.5 886.1L1873.9 886.1L1874.5 891.7L1875 898.4L1875.5 906.1L1876 913.8L1876.5 920.8L1877 926L1877.2 927.2L1877.5 925L1878 920.6L1878.5 915.1L1879 908.9L1879.5 902.5L1880 896.2L1880.5 890.7L1881 886.3L1881.3 884.1L1881.5 884.8L1882 888L1882.5 892.2L1883 896.4L1883.5 899.6L1883.7 900.4L1884 899L1884.5 895.6L1885 892.3L1885.3 891.3L1885.5 892.9L1886 897.5L1886.5 903.4L1887 909.8L1887.5 916.1L1888 921.4L1888.5 925.2L1888.5 925.2L1889 922.1L1889.5 917.5L1890 912L1890.5 906L1891 899.9L1891.5 894L1892 888.8L1892.5 884.7L1892.8 882.8L1893 883.4L1893.5 885.7L1894 888.7L1894.5 892L1895 895.3L1895.5 898.1L1896 900.2L1896.1 900.4L1896.5 898.2L1897 894.4L1897.5 890.4L1898 887.5L1898 887.4L1898.5 889.2L1899 892.1L1899.5 895.3L1900 898.4L1900.5 900.7L1900.6 901.1L1901 900L1901.5 897.8L1902 895.1L1902.5 892.3L1903 889.6L1903.5 887.3L1903.9 886.1L1904.5 891.6L1905 898.1L1905.5 904.1L1905.9 907L1906 906.5L1906.5 904.2L1907 901.1L1907.5 897.6L1908 893.8L1908.5 890.2L1909 887L1909.5 884.5L1909.8 883.5L1910 883.9L1910.5 885.2L1911 886.7L1911.5 888.5L1912 890.5L1912.5 892.6L1913 894.8L1913.5 897L1913.7 897.8L1914 900.2L1914.5 904.7L1915 909.7L1915.5 914.9L1916 919.9L1916.5 924.4L1917 928L1917.3 929.8L1917.5 928.8L1918 924.6L1918.5 919L1919 912.5L1919.5 905.8L1920 899.3L1920.5 893.5L1921 889L1921.2 887.4L1921.5 888.4L1922 891.3L1922.5 894.9L1923 898.3L1923.5 900.4L1924 897.9L1924.5 894.3L1925 890.6L1925.5 887.4L1925.8 886.1L1926 887.6L1926.5 893.3L1927 900.9L1927.5 909.3L1928 917.4L1928.5 924.1L1928.9 927.9L1929.5 926.4L1930 924.9L1930.5 923.1L1931 921L1931.5 918.8L1932 916.5L1932.5 914L1933 911.5L1933.5 908.9L1933.6 908.3L1934 905L1934.5 899.9L1935 895.2L1935.1 894.2L1935.5 892.7L1936 890.8L1936.5 888.9L1937 887.2L1937.5 885.7L1938 884.5L1938.5 883.4L1938.6 883.2L1939 886.1L1939.5 892.1L1940 899.5L1940.5 907.1L1941 914.1L1941.5 919.2L1941.7 920.3L1942 920.3L1942.5 920.2L1943 920.1L1943.5 920L1944 919.9L1944.2 919.8L1944.5 919.6L1945 919.3L1945.5 918.9L1946 918.5L1946.2 918.3L1946.5 916.1L1947 911.4L1947.5 905.7L1948 899.6L1948.5 893.6L1949 888.3L1949.5 884.2L1949.7 883.2L1950 884.6L1950.5 887.5L1951 891.1L1951.5 895.2L1952 899.4L1952.5 903.5L1953 907.1L1953.2 908.3L1953.5 909.5L1954 911.6L1954.5 913.6L1955 915.5L1955.5 917.2L1956 918.7L1956.5 919.9L1956.7 920.3L1957 918.6L1957.5 914.3L1958 908.9L1958.5 902.9L1959 896.9L1959.5 891.6L1960 887.5L1960.2 886.2L1960.5 887L1961 888.9L1961.5 891.2L1962 893.9L1962.5 896.7L1963 899.6L1963.5 902.5L1964 905.1L1964.2 906.3L1964.5 907.4L1965 909.5L1965.5 911.7L1966 913.9L1966.5 916.1L1967 918.2L1967.5 920.2L1968 922L1968.5 923.5L1969 924.8L1969.3 925.4L1969.5 923.5L1970 918.1L1970.5 911.2L1971 903.5L1971.5 895.7L1972 888.7L1972.5 883.3L1972.8 881.2L1973 881.9L1973.5 884.4L1974 887.6L1974.5 890.7L1975 893.3L1975.3 894.2L1975.5 893.8L1976 892.3L1976.5 890.8L1976.8 890.2L1977 891.4L1977.5 895.2L1978 900.2L1978.5 905.8L1979 911.5L1979.5 916.6L1980 920.7L1980.3 922.3L1980.5 921.3L1981 917.7L1981.5 913L1982 907.7L1982.5 902.1L1983 896.6L1983.5 891.8L1984 887.9L1984.3 886.2L1984.5 886.8L1985 889.4L1985.5 892.8L1986 896.2L1986.5 899L1986.8 900.3L1987 899.4L1987.5 895.4L1988 891.1L1988.3 889.2L1988.5 890.3L1989 894.8L1989.5 900.7L1990 907.4L1990.5 914.2L1991 920.5L1991.5 925.5L1991.8 927.9L1992 927.3L1992.5 925L1993 922L1993.5 918.5L1994 914.7L1994.5 910.8L1995 907L1995.5 903.4L1996 900.2L1996.4 898.3L1996.5 897.9L1997 896.5L1997.5 895.2L1998 894L1998.5 892.8L1999 891.6L1999.5 890.5L2000 889.5L2000.5 888.7L2001 887.9L2001.5 887.3L2001.6 887.2" fill="none" stroke="#0000ff" stroke-width="4.5" stroke-linejoin="round" stroke-linecap="round"/>
<g font-size="50" fill="#262626" text-anchor="middle">
<text x="182" y="524.3">0</text>
<text x="182" y="1081.9">0</text>
<text x="409.5" y="524.3">20</text>
<text x="409.5" y="1081.9">20</text>
<text x="637" y="524.3">40</text>
<text x="637" y="1081.9">40</text>
<text x="864.4" y="524.3">60</text>
<text x="864.4" y="1081.9">60</text>
<text x="1091.9" y="524.3">80</text>
<text x="1091.9" y="1081.9">80</text>
<text x="1319.4" y="524.3">100</text>
<text x="1319.4" y="1081.9">100</text>
<text x="1546.8" y="524.3">120</text>
<text x="1546.8" y="1081.9">120</text>
<text x="1774.3" y="524.3">140</text>
<text x="1774.3" y="1081.9">140</text>
<text x="2001.8" y="524.3">160</text>
<text x="2001.8" y="1081.9">160</text>
</g>
<g font-size="50" fill="#262626" text-anchor="end">
<text x="161.5" y="91.7">8</text>
<text x="161.5" y="284.1">0</text>
<text x="161.5" y="476.5">-8</text>
<text x="161.5" y="650.1">0.5</text>
<text x="161.5" y="778.3">0</text>
<text x="161.5" y="906.6">-0.5</text>
<text x="161.5" y="1034.8">-1</text>
</g>
<g font-size="56" fill="#262626" text-anchor="middle">
<text x="1084.2" y="1151.6">Time (s)</text>
<text transform="translate(96.3 267.75) rotate(-90)">Displacement-x (mm)</text>
<text transform="translate(61 826.5) rotate(-90)">Displacement-z (mm)</text>
</g>
<text fill="#ff0000" font-size="50"><tspan x="1090" y="396.8">D8</tspan><tspan x="1206.5" y="396.8" font-style="italic">ρ</tspan><tspan x="1229.5" y="422.4" font-size="38.5">d</tspan><tspan x="1249" y="396.8">=</tspan><tspan x="1280" y="396.8" letter-spacing="-0.3">1550kg/m</tspan><tspan x="1482" y="375" font-size="33">2</tspan></text>
<text fill="#ff0000" font-size="50"><tspan x="1090" y="724.2">D5</tspan><tspan x="1194.9" y="724.2" font-style="italic">ρ</tspan><tspan x="1217.9" y="749.8" font-size="38.5">d</tspan><tspan x="1237.6" y="724.2">=</tspan><tspan x="1268.5" y="724.2" letter-spacing="-0.3">1550kg/m</tspan><tspan x="1470.6" y="702.4" font-size="33">2</tspan></text>
<g font-size="81.2" fill="#000">
<text transform="translate(984.6 1261.6) scale(0.851 1)">(</text>
<text transform="translate(1010.7 1262) scale(0.96 1)" font-weight="bold" font-size="80">c</text>
<text transform="translate(1045.1 1261.6) scale(0.851 1)">)</text>
</g>
</svg>
</body></html>
